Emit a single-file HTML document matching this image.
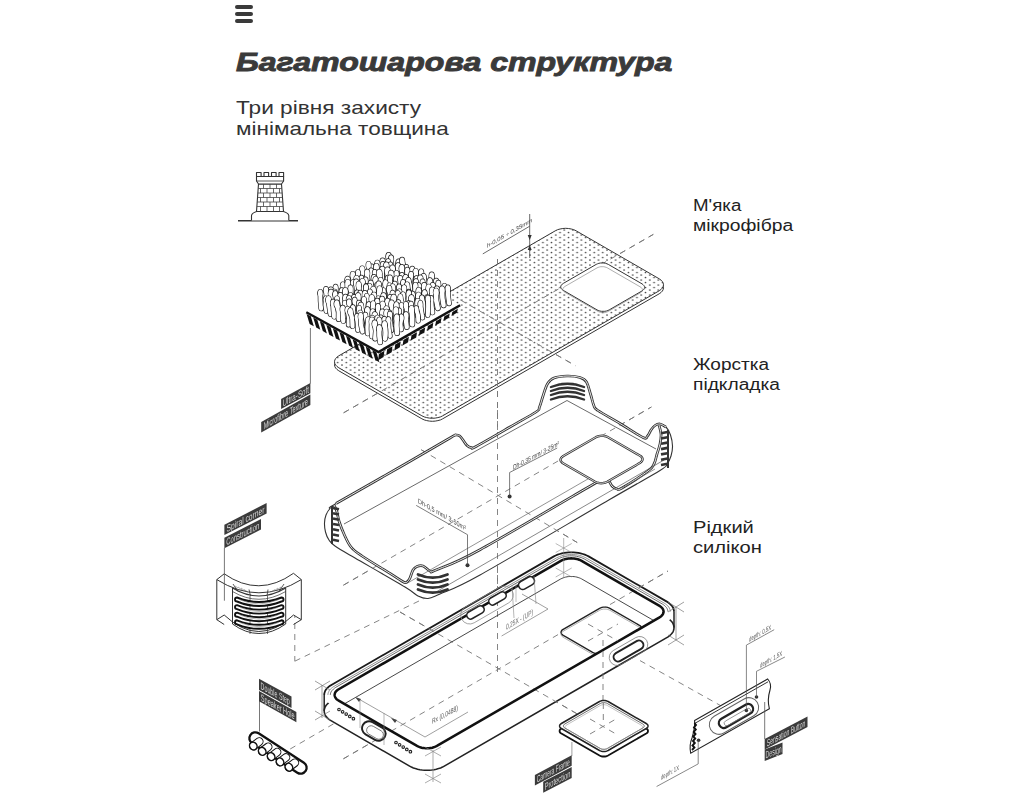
<!DOCTYPE html>
<html><head><meta charset="utf-8">
<style>
html,body{margin:0;padding:0;background:#fff;width:1024px;height:800px;overflow:hidden;}
body{position:relative;font-family:"Liberation Sans",sans-serif;color:#222;}
.t{position:absolute;white-space:nowrap;}
#ham{position:absolute;left:235px;top:4.5px;width:18px;}
#ham i{display:block;height:4px;border-radius:2px;background:#3a3a3a;margin-bottom:3px;}
#title{left:236px;top:46.5px;font-size:26.5px;line-height:30px;font-weight:bold;font-style:italic;color:#3a3a3a;transform-origin:0 0;-webkit-text-stroke:0.9px #3a3a3a;}
.sub{left:236px;font-size:19px;line-height:21px;color:#333;transform-origin:0 0;}
.lab{left:693px;font-size:15.6px;line-height:20px;color:#222;transform-origin:0 0;}
svg{position:absolute;left:0;top:0;}
</style></head>
<body>
<div id="ham"><i></i><i></i><i></i></div>
<div class="t" id="title" style="transform:scaleX(1.211)">Багатошарова структура</div>
<div class="t sub" id="s1" style="top:96.9px;transform:scaleX(1.192)">Три рівня захисту</div>
<div class="t sub" id="s2" style="top:118.3px;transform:scaleX(1.186)">мінімальна товщина</div>
<div class="t lab" id="l1" style="top:196px;transform:scaleX(1.2)">М'яка</div>
<div class="t lab" id="l2" style="top:216px;transform:scaleX(1.2375)">мікрофібра</div>
<div class="t lab" id="l3" style="top:354.7px;transform:scaleX(1.22)">Жорстка</div>
<div class="t lab" id="l4" style="top:374.6px;transform:scaleX(1.23)">підкладка</div>
<div class="t lab" id="l5" style="top:517.7px;transform:scaleX(1.289)">Рідкий</div>
<div class="t lab" id="l6" style="top:537.6px;transform:scaleX(1.292)">силікон</div>
<svg width="1024" height="800" viewBox="0 0 1024 800" style="will-change:transform">
<defs>
<pattern id="dots" patternUnits="userSpaceOnUse" width="8.55" height="5">
<circle cx="0" cy="0" r="0.85" fill="#4a4a4a"/><circle cx="8.55" cy="0" r="0.85" fill="#4a4a4a"/>
<circle cx="0" cy="5" r="0.85" fill="#4a4a4a"/><circle cx="8.55" cy="5" r="0.85" fill="#4a4a4a"/>
<circle cx="4.275" cy="2.5" r="0.85" fill="#4a4a4a"/></pattern>
</defs>
<g fill="#fff" stroke="#333" stroke-width="1.1" stroke-linejoin="round">
<line x1="238" y1="220.7" x2="298" y2="220.7" stroke-width="1.4"/>
<path d="M251.5,220.5 L251.5,215.5 Q252,213 256.5,211.5 L283.5,211.5 Q288.3,213 288.8,215.5 L288.8,220.5"/>
<path d="M258.5,184 L256.5,211.5 L283.5,211.5 L281.5,184 Z"/>
<rect x="256.5" y="172.5" width="4.6" height="4" />
<rect x="264" y="172.5" width="4.6" height="4" />
<rect x="271.5" y="172.5" width="4.6" height="4" />
<rect x="279" y="172.5" width="4.6" height="4" />
<path d="M256.5,176.5 L283.6,176.5 L283.6,181 L281.5,184 L258.5,184 L256.5,181 Z"/>
<line x1="256.8" y1="181" x2="283.3" y2="181" stroke-width="0.8"/>
</g><g stroke="#444" stroke-width="0.8">
<line x1="258.2" y1="188.5" x2="281.8" y2="188.5"/>
<line x1="257.8" y1="193" x2="282.2" y2="193"/>
<line x1="257.5" y1="197.5" x2="282.5" y2="197.5"/>
<line x1="257.2" y1="202" x2="282.8" y2="202"/>
<line x1="256.9" y1="206.5" x2="283.1" y2="206.5"/>
<line x1="263.5" y1="184" x2="263.5" y2="188.5"/>
<line x1="270" y1="184" x2="270" y2="188.5"/>
<line x1="276.5" y1="184" x2="276.5" y2="188.5"/>
<line x1="260.5" y1="188.5" x2="260.5" y2="193"/>
<line x1="267" y1="188.5" x2="267" y2="193"/>
<line x1="273.5" y1="188.5" x2="273.5" y2="193"/>
<line x1="279.5" y1="188.5" x2="279.5" y2="193"/>
<line x1="263.5" y1="193" x2="263.5" y2="197.5"/>
<line x1="270" y1="193" x2="270" y2="197.5"/>
<line x1="276.5" y1="193" x2="276.5" y2="197.5"/>
<line x1="260.5" y1="197.5" x2="260.5" y2="202"/>
<line x1="267" y1="197.5" x2="267" y2="202"/>
<line x1="273.5" y1="197.5" x2="273.5" y2="202"/>
<line x1="279.5" y1="197.5" x2="279.5" y2="202"/>
<line x1="263.5" y1="202" x2="263.5" y2="206.5"/>
<line x1="270" y1="202" x2="270" y2="206.5"/>
<line x1="276.5" y1="202" x2="276.5" y2="206.5"/>
<line x1="260.5" y1="206.5" x2="260.5" y2="211.5"/>
<line x1="267" y1="206.5" x2="267" y2="211.5"/>
<line x1="273.5" y1="206.5" x2="273.5" y2="211.5"/>
<line x1="279.5" y1="206.5" x2="279.5" y2="211.5"/>
</g>
<line x1="497.5" y1="259" x2="497.5" y2="675" stroke="#777" stroke-width="0.9" stroke-dasharray="6 5" fill="none" />
<line x1="343.6" y1="412.8" x2="653.3" y2="234.4" stroke="#777" stroke-width="0.9" stroke-dasharray="6 5" fill="none" />
<line x1="460.5" y1="300" x2="575.3" y2="365.6" stroke="#777" stroke-width="0.9" stroke-dasharray="6 5" fill="none" />
<line x1="343.4" y1="585.2" x2="651.4" y2="407" stroke="#777" stroke-width="0.9" stroke-dasharray="6 5" fill="none" />
<line x1="421.3" y1="449.8" x2="577.2" y2="542.5" stroke="#777" stroke-width="0.9" stroke-dasharray="6 5" fill="none" />
<line x1="294.8" y1="661.2" x2="519" y2="552.5" stroke="#777" stroke-width="0.9" stroke-dasharray="6 5" fill="none" />
<line x1="294.8" y1="601" x2="294.8" y2="661.2" stroke="#777" stroke-width="0.9" stroke-dasharray="6 5" fill="none" />
<line x1="290.2" y1="749" x2="334" y2="723.6" stroke="#777" stroke-width="0.9" stroke-dasharray="6 5" fill="none" />
<line x1="343.4" y1="758.8" x2="668" y2="571" stroke="#777" stroke-width="0.9" stroke-dasharray="6 5" fill="none" />
<line x1="400" y1="612" x2="600" y2="727" stroke="#777" stroke-width="0.9" stroke-dasharray="6 5" fill="none" />
<path d="M555.3,233.8 L557.5,232.7 L560.1,232 L562.8,231.5 L565.7,231.3 L568.5,231.5 L571.3,232 L573.8,232.7 L576.1,233.8 L659.2,281.8 L661,283.1 L662.4,284.6 L663.2,286.1 L663.5,287.8 L663.2,289.5 L662.4,291 L661,292.5 L659.2,293.8 L442.7,418.8 L440.5,419.9 L437.9,420.6 L435.2,421.1 L432.3,421.3 L429.5,421.1 L426.7,420.6 L424.2,419.9 L421.9,418.8 L338.8,370.8 L337,369.5 L335.6,368 L334.8,366.5 L334.5,364.8 L334.8,363.1 L335.6,361.6 L337,360.1 L338.8,358.8Z" fill="#fff" stroke="#333" stroke-width="1" />
<path d="M555.3,230.8 L557.5,229.7 L560.1,229 L562.8,228.5 L565.7,228.3 L568.5,228.5 L571.3,229 L573.8,229.7 L576.1,230.8 L659.2,278.8 L661,280.1 L662.4,281.6 L663.2,283.1 L663.5,284.8 L663.2,286.5 L662.4,288 L661,289.5 L659.2,290.8 L442.7,415.8 L440.5,416.9 L437.9,417.6 L435.2,418.1 L432.3,418.3 L429.5,418.1 L426.7,417.6 L424.2,416.9 L421.9,415.8 L338.8,367.8 L337,366.5 L335.6,365 L334.8,363.5 L334.5,361.8 L334.8,360.1 L335.6,358.6 L337,357.1 L338.8,355.8Z" fill="#fff" stroke="none" stroke-width="0" />
<path d="M555.3,230.8 L557.5,229.7 L560.1,229 L562.8,228.5 L565.7,228.3 L568.5,228.5 L571.3,229 L573.8,229.7 L576.1,230.8 L659.2,278.8 L661,280.1 L662.4,281.6 L663.2,283.1 L663.5,284.8 L663.2,286.5 L662.4,288 L661,289.5 L659.2,290.8 L442.7,415.8 L440.5,416.9 L437.9,417.6 L435.2,418.1 L432.3,418.3 L429.5,418.1 L426.7,417.6 L424.2,416.9 L421.9,415.8 L338.8,367.8 L337,366.5 L335.6,365 L334.8,363.5 L334.5,361.8 L334.8,360.1 L335.6,358.6 L337,357.1 L338.8,355.8Z" fill="url(#dots)" stroke="#333" stroke-width="1" />
<line x1="343.6" y1="412.8" x2="653.3" y2="234.4" stroke="#777" stroke-width="0.9" stroke-dasharray="6 5" fill="none" />
<line x1="460.5" y1="300" x2="575.3" y2="365.6" stroke="#777" stroke-width="0.9" stroke-dasharray="6 5" fill="none" />
<line x1="497.5" y1="259" x2="497.5" y2="420" stroke="#777" stroke-width="0.9" stroke-dasharray="6 5" fill="none" />
<path d="M596.2,264.4 L597.5,263.8 L598.9,263.3 L600.6,263 L602.2,263 L603.9,263 L605.5,263.3 L607,263.8 L608.3,264.4 L642.1,283.9 L643.1,284.7 L643.9,285.5 L644.4,286.4 L644.6,287.4 L644.4,288.4 L643.9,289.3 L643.1,290.1 L642.1,290.9 L609.2,309.9 L607.9,310.5 L606.4,311 L604.8,311.3 L603.1,311.3 L601.4,311.3 L599.8,311 L598.3,310.5 L597,309.9 L563.3,290.4 L562.2,289.6 L561.4,288.8 L560.9,287.9 L560.7,286.9 L560.9,285.9 L561.4,285 L562.2,284.2 L563.3,283.4Z" fill="#fff" stroke="#333" stroke-width="1" />
<path d="M597,267.9 L598.1,267.4 L599.4,267 L600.8,266.7 L602.2,266.7 L603.7,266.7 L605,267 L606.3,267.4 L607.4,267.9 L640.3,286.9 L641.2,287.5 L641.9,288.3 L642.3,289.1 L642.5,289.9 L642.3,290.7 L641.9,291.5 L641.2,292.3 L640.3,292.9 L608.3,311.4 L607.2,311.9 L605.9,312.3 L604.5,312.6 L603.1,312.6 L601.7,312.6 L600.3,312.3 L599,311.9 L597.9,311.4 L565,292.4 L564.1,291.8 L563.4,291 L563,290.2 L562.8,289.4 L563,288.6 L563.4,287.8 L564.1,287 L565,286.4Z" fill="none" stroke="#777" stroke-width="0.6" />
<line x1="482.8" y1="253.9" x2="529.7" y2="226.2" stroke="#444" stroke-width="0.8"/>
<line x1="529.7" y1="214" x2="529.7" y2="258" stroke="#444" stroke-width="0.8"/>
<path d="M527.7,235 L529.7,240 L531.7,235 Z M527.7,250 L529.7,245 L531.7,250Z" fill="#333"/>
<text x="0" y="0" transform="translate(487,248) skewY(-30)" font-family="Liberation Sans" font-size="6" fill="#444">h-0,05 ÷ 0,35mm</text>
<path d="M306.3,312.2 L378.5,352 L460.1,305.3 L388,265.5Z" fill="#fff" stroke="none" stroke-width="0" />
<g stroke-linecap="round" fill="none">
<path d="M389,269.7 Q389.3,263.1 388.6,256.5" stroke="#1a1a1a" stroke-width="5.8"/><ellipse cx="388.6" cy="256.5" rx="3.2" ry="4.4" fill="#1a1a1a"/>
<path d="M389,269.7 Q389.3,263.1 388.6,256.5" stroke="#fff" stroke-width="4.5"/><ellipse cx="388.6" cy="256.5" rx="2.5" ry="3.8" fill="#fff"/>
<path d="M393.4,272.2 Q390.8,265.5 391.1,258.7" stroke="#1a1a1a" stroke-width="5.4"/><ellipse cx="391.1" cy="258.7" rx="3" ry="4.2" fill="#1a1a1a"/>
<path d="M393.4,272.2 Q390.8,265.5 391.1,258.7" stroke="#fff" stroke-width="4.1"/><ellipse cx="391.1" cy="258.7" rx="2.3" ry="3.5" fill="#fff"/>
<path d="M384.4,273.9 Q382.1,267.9 382.6,262" stroke="#1a1a1a" stroke-width="5.7"/><ellipse cx="382.6" cy="262" rx="3.1" ry="4.4" fill="#1a1a1a"/>
<path d="M384.4,273.9 Q382.1,267.9 382.6,262" stroke="#fff" stroke-width="4.4"/><ellipse cx="382.6" cy="262" rx="2.5" ry="3.7" fill="#fff"/>
<path d="M398.5,274.9 Q399.2,268.9 398.6,263" stroke="#1a1a1a" stroke-width="5.8"/><ellipse cx="398.6" cy="263" rx="3.2" ry="4.5" fill="#1a1a1a"/>
<path d="M398.5,274.9 Q399.2,268.9 398.6,263" stroke="#fff" stroke-width="4.5"/><ellipse cx="398.6" cy="263" rx="2.5" ry="3.8" fill="#fff"/>
<path d="M389.7,275.3 Q388.7,268.9 388.1,262.4" stroke="#1a1a1a" stroke-width="5.3"/><ellipse cx="388.1" cy="262.4" rx="2.9" ry="4.1" fill="#1a1a1a"/>
<path d="M389.7,275.3 Q388.7,268.9 388.1,262.4" stroke="#fff" stroke-width="4"/><ellipse cx="388.1" cy="262.4" rx="2.3" ry="3.4" fill="#fff"/>
<path d="M379.1,276.2 Q380,270.1 377.3,263.9" stroke="#1a1a1a" stroke-width="5.5"/><ellipse cx="377.3" cy="263.9" rx="3" ry="4.2" fill="#1a1a1a"/>
<path d="M379.1,276.2 Q380,270.1 377.3,263.9" stroke="#fff" stroke-width="4.2"/><ellipse cx="377.3" cy="263.9" rx="2.4" ry="3.6" fill="#fff"/>
<path d="M403.9,277.4 Q404.9,269.2 402.1,261" stroke="#1a1a1a" stroke-width="5.5"/><ellipse cx="402.1" cy="261" rx="3.1" ry="4.3" fill="#1a1a1a"/>
<path d="M403.9,277.4 Q404.9,269.2 402.1,261" stroke="#fff" stroke-width="4.2"/><ellipse cx="402.1" cy="261" rx="2.4" ry="3.6" fill="#fff"/>
<path d="M392.9,278.9 Q391.2,272.4 390.4,265.8" stroke="#1a1a1a" stroke-width="5.4"/><ellipse cx="390.4" cy="265.8" rx="3" ry="4.2" fill="#1a1a1a"/>
<path d="M392.9,278.9 Q391.2,272.4 390.4,265.8" stroke="#fff" stroke-width="4.1"/><ellipse cx="390.4" cy="265.8" rx="2.3" ry="3.5" fill="#fff"/>
<path d="M384.8,279.2 Q383.8,272.3 382.9,265.4" stroke="#1a1a1a" stroke-width="5.5"/><ellipse cx="382.9" cy="265.4" rx="3.1" ry="4.3" fill="#1a1a1a"/>
<path d="M384.8,279.2 Q383.8,272.3 382.9,265.4" stroke="#fff" stroke-width="4.2"/><ellipse cx="382.9" cy="265.4" rx="2.4" ry="3.6" fill="#fff"/>
<path d="M373.9,279.3 Q372.4,273.5 371.7,267.7" stroke="#1a1a1a" stroke-width="5.3"/><ellipse cx="371.7" cy="267.7" rx="3" ry="4.1" fill="#1a1a1a"/>
<path d="M373.9,279.3 Q372.4,273.5 371.7,267.7" stroke="#fff" stroke-width="4"/><ellipse cx="371.7" cy="267.7" rx="2.3" ry="3.5" fill="#fff"/>
<path d="M407.9,279.7 Q406.1,273.8 406.3,268" stroke="#1a1a1a" stroke-width="5.1"/><ellipse cx="406.3" cy="268" rx="2.9" ry="4" fill="#1a1a1a"/>
<path d="M407.9,279.7 Q406.1,273.8 406.3,268" stroke="#fff" stroke-width="3.8"/><ellipse cx="406.3" cy="268" rx="2.2" ry="3.3" fill="#fff"/>
<path d="M398.3,281 Q398.8,273.8 398,266.6" stroke="#1a1a1a" stroke-width="5.5"/><ellipse cx="398" cy="266.6" rx="3.1" ry="4.3" fill="#1a1a1a"/>
<path d="M398.3,281 Q398.8,273.8 398,266.6" stroke="#fff" stroke-width="4.2"/><ellipse cx="398" cy="266.6" rx="2.4" ry="3.6" fill="#fff"/>
<path d="M387.7,281.1 Q386.3,273.6 386.3,266" stroke="#1a1a1a" stroke-width="5.8"/><ellipse cx="386.3" cy="266" rx="3.2" ry="4.5" fill="#1a1a1a"/>
<path d="M387.7,281.1 Q386.3,273.6 386.3,266" stroke="#fff" stroke-width="4.5"/><ellipse cx="386.3" cy="266" rx="2.6" ry="3.8" fill="#fff"/>
<path d="M368.8,281.5 Q369.2,273.2 368.5,265" stroke="#1a1a1a" stroke-width="5.2"/><ellipse cx="368.5" cy="265" rx="2.9" ry="4" fill="#1a1a1a"/>
<path d="M368.8,281.5 Q369.2,273.2 368.5,265" stroke="#fff" stroke-width="3.9"/><ellipse cx="368.5" cy="265" rx="2.3" ry="3.4" fill="#fff"/>
<path d="M412.1,281.9 Q412.7,276.1 412.3,270.2" stroke="#1a1a1a" stroke-width="5.8"/><ellipse cx="412.3" cy="270.2" rx="3.2" ry="4.5" fill="#1a1a1a"/>
<path d="M412.1,281.9 Q412.7,276.1 412.3,270.2" stroke="#fff" stroke-width="4.5"/><ellipse cx="412.3" cy="270.2" rx="2.5" ry="3.8" fill="#fff"/>
<path d="M378.5,282.4 Q377.6,274.8 376.4,267.3" stroke="#1a1a1a" stroke-width="5.7"/><ellipse cx="376.4" cy="267.3" rx="3.2" ry="4.4" fill="#1a1a1a"/>
<path d="M378.5,282.4 Q377.6,274.8 376.4,267.3" stroke="#fff" stroke-width="4.4"/><ellipse cx="376.4" cy="267.3" rx="2.5" ry="3.8" fill="#fff"/>
<path d="M401.8,282.5 Q403.1,275.5 401.8,268.5" stroke="#1a1a1a" stroke-width="5.8"/><ellipse cx="401.8" cy="268.5" rx="3.2" ry="4.5" fill="#1a1a1a"/>
<path d="M401.8,282.5 Q403.1,275.5 401.8,268.5" stroke="#fff" stroke-width="4.5"/><ellipse cx="401.8" cy="268.5" rx="2.5" ry="3.8" fill="#fff"/>
<path d="M392.9,283.5 Q393.5,276.3 392.5,269" stroke="#1a1a1a" stroke-width="5.8"/><ellipse cx="392.5" cy="269" rx="3.2" ry="4.5" fill="#1a1a1a"/>
<path d="M392.9,283.5 Q393.5,276.3 392.5,269" stroke="#fff" stroke-width="4.5"/><ellipse cx="392.5" cy="269" rx="2.6" ry="3.8" fill="#fff"/>
<path d="M373.2,284.2 Q371.6,277.9 371.1,271.6" stroke="#1a1a1a" stroke-width="5.1"/><ellipse cx="371.1" cy="271.6" rx="2.9" ry="4" fill="#1a1a1a"/>
<path d="M373.2,284.2 Q371.6,277.9 371.1,271.6" stroke="#fff" stroke-width="3.8"/><ellipse cx="371.1" cy="271.6" rx="2.2" ry="3.3" fill="#fff"/>
<path d="M416.5,284.4 Q416.6,278.4 415.7,272.4" stroke="#1a1a1a" stroke-width="5.8"/><ellipse cx="415.7" cy="272.4" rx="3.2" ry="4.5" fill="#1a1a1a"/>
<path d="M416.5,284.4 Q416.6,278.4 415.7,272.4" stroke="#fff" stroke-width="4.5"/><ellipse cx="415.7" cy="272.4" rx="2.5" ry="3.8" fill="#fff"/>
<path d="M383.5,284.8 Q381,277.5 382.4,270.2" stroke="#1a1a1a" stroke-width="5.6"/><ellipse cx="382.4" cy="270.2" rx="3.1" ry="4.4" fill="#1a1a1a"/>
<path d="M383.5,284.8 Q381,277.5 382.4,270.2" stroke="#fff" stroke-width="4.3"/><ellipse cx="382.4" cy="270.2" rx="2.5" ry="3.7" fill="#fff"/>
<path d="M363.2,285.3 Q362.8,277.6 362.2,269.8" stroke="#1a1a1a" stroke-width="5.7"/><ellipse cx="362.2" cy="269.8" rx="3.1" ry="4.4" fill="#1a1a1a"/>
<path d="M363.2,285.3 Q362.8,277.6 362.2,269.8" stroke="#fff" stroke-width="4.4"/><ellipse cx="362.2" cy="269.8" rx="2.5" ry="3.7" fill="#fff"/>
<path d="M407.6,285.6 Q406.4,278.2 407.3,270.8" stroke="#1a1a1a" stroke-width="5.2"/><ellipse cx="407.3" cy="270.8" rx="2.9" ry="4" fill="#1a1a1a"/>
<path d="M407.6,285.6 Q406.4,278.2 407.3,270.8" stroke="#fff" stroke-width="3.9"/><ellipse cx="407.3" cy="270.8" rx="2.2" ry="3.3" fill="#fff"/>
<path d="M396.8,285.9 Q395.5,280 396.5,274.1" stroke="#1a1a1a" stroke-width="5.3"/><ellipse cx="396.5" cy="274.1" rx="3" ry="4.1" fill="#1a1a1a"/>
<path d="M396.8,285.9 Q395.5,280 396.5,274.1" stroke="#fff" stroke-width="4"/><ellipse cx="396.5" cy="274.1" rx="2.3" ry="3.5" fill="#fff"/>
<path d="M388.5,286.3 Q387.5,278.7 387.5,271.1" stroke="#1a1a1a" stroke-width="5.9"/><ellipse cx="387.5" cy="271.1" rx="3.2" ry="4.5" fill="#1a1a1a"/>
<path d="M388.5,286.3 Q387.5,278.7 387.5,271.1" stroke="#fff" stroke-width="4.6"/><ellipse cx="387.5" cy="271.1" rx="2.6" ry="3.9" fill="#fff"/>
<path d="M367.3,286.9 Q367.7,280 367.1,273.1" stroke="#1a1a1a" stroke-width="5.6"/><ellipse cx="367.1" cy="273.1" rx="3.1" ry="4.4" fill="#1a1a1a"/>
<path d="M367.3,286.9 Q367.7,280 367.1,273.1" stroke="#fff" stroke-width="4.3"/><ellipse cx="367.1" cy="273.1" rx="2.5" ry="3.7" fill="#fff"/>
<path d="M376.8,287.7 Q374.8,280.3 374.8,273" stroke="#1a1a1a" stroke-width="5.2"/><ellipse cx="374.8" cy="273" rx="2.9" ry="4" fill="#1a1a1a"/>
<path d="M376.8,287.7 Q374.8,280.3 374.8,273" stroke="#fff" stroke-width="3.9"/><ellipse cx="374.8" cy="273" rx="2.2" ry="3.3" fill="#fff"/>
<path d="M422,287.8 Q419.6,280.2 421.2,272.6" stroke="#1a1a1a" stroke-width="5.3"/><ellipse cx="421.2" cy="272.6" rx="3" ry="4.1" fill="#1a1a1a"/>
<path d="M422,287.8 Q419.6,280.2 421.2,272.6" stroke="#fff" stroke-width="4"/><ellipse cx="421.2" cy="272.6" rx="2.3" ry="3.5" fill="#fff"/>
<path d="M402.4,288 Q402.9,282.1 401.9,276.2" stroke="#1a1a1a" stroke-width="5.3"/><ellipse cx="401.9" cy="276.2" rx="3" ry="4.1" fill="#1a1a1a"/>
<path d="M402.4,288 Q402.9,282.1 401.9,276.2" stroke="#fff" stroke-width="4"/><ellipse cx="401.9" cy="276.2" rx="2.3" ry="3.5" fill="#fff"/>
<path d="M358.9,288.2 Q358.3,280.8 358,273.3" stroke="#1a1a1a" stroke-width="5.3"/><ellipse cx="358" cy="273.3" rx="3" ry="4.1" fill="#1a1a1a"/>
<path d="M358.9,288.2 Q358.3,280.8 358,273.3" stroke="#fff" stroke-width="4"/><ellipse cx="358" cy="273.3" rx="2.3" ry="3.5" fill="#fff"/>
<path d="M410.9,288.9 Q409.8,282 411.1,275.1" stroke="#1a1a1a" stroke-width="5.2"/><ellipse cx="411.1" cy="275.1" rx="2.9" ry="4" fill="#1a1a1a"/>
<path d="M410.9,288.9 Q409.8,282 411.1,275.1" stroke="#fff" stroke-width="3.9"/><ellipse cx="411.1" cy="275.1" rx="2.2" ry="3.4" fill="#fff"/>
<path d="M381.7,289.7 Q380.3,281.5 379.3,273.3" stroke="#1a1a1a" stroke-width="5.8"/><ellipse cx="379.3" cy="273.3" rx="3.2" ry="4.5" fill="#1a1a1a"/>
<path d="M381.7,289.7 Q380.3,281.5 379.3,273.3" stroke="#fff" stroke-width="4.5"/><ellipse cx="379.3" cy="273.3" rx="2.6" ry="3.9" fill="#fff"/>
<path d="M392.3,289.9 Q390.8,282.1 391.1,274.3" stroke="#1a1a1a" stroke-width="5.9"/><ellipse cx="391.1" cy="274.3" rx="3.2" ry="4.5" fill="#1a1a1a"/>
<path d="M392.3,289.9 Q390.8,282.1 391.1,274.3" stroke="#fff" stroke-width="4.6"/><ellipse cx="391.1" cy="274.3" rx="2.6" ry="3.9" fill="#fff"/>
<path d="M425.4,290.2 Q424.8,283.9 423.6,277.6" stroke="#1a1a1a" stroke-width="5.9"/><ellipse cx="423.6" cy="277.6" rx="3.2" ry="4.5" fill="#1a1a1a"/>
<path d="M425.4,290.2 Q424.8,283.9 423.6,277.6" stroke="#fff" stroke-width="4.6"/><ellipse cx="423.6" cy="277.6" rx="2.6" ry="3.9" fill="#fff"/>
<path d="M373.5,290.5 Q372.2,284.4 373.9,278.3" stroke="#1a1a1a" stroke-width="5.5"/><ellipse cx="373.9" cy="278.3" rx="3.1" ry="4.3" fill="#1a1a1a"/>
<path d="M373.5,290.5 Q372.2,284.4 373.9,278.3" stroke="#fff" stroke-width="4.2"/><ellipse cx="373.9" cy="278.3" rx="2.4" ry="3.6" fill="#fff"/>
<path d="M352.7,290.8 Q353.6,283 352.8,275.2" stroke="#1a1a1a" stroke-width="5.5"/><ellipse cx="352.8" cy="275.2" rx="3.1" ry="4.3" fill="#1a1a1a"/>
<path d="M352.7,290.8 Q353.6,283 352.8,275.2" stroke="#fff" stroke-width="4.2"/><ellipse cx="352.8" cy="275.2" rx="2.4" ry="3.6" fill="#fff"/>
<path d="M406.6,291.1 Q404.2,284.8 405.6,278.5" stroke="#1a1a1a" stroke-width="5.8"/><ellipse cx="405.6" cy="278.5" rx="3.2" ry="4.5" fill="#1a1a1a"/>
<path d="M406.6,291.1 Q404.2,284.8 405.6,278.5" stroke="#fff" stroke-width="4.5"/><ellipse cx="405.6" cy="278.5" rx="2.6" ry="3.8" fill="#fff"/>
<path d="M397.4,291.1 Q396,285.4 396.2,279.6" stroke="#1a1a1a" stroke-width="5.5"/><ellipse cx="396.2" cy="279.6" rx="3" ry="4.2" fill="#1a1a1a"/>
<path d="M397.4,291.1 Q396,285.4 396.2,279.6" stroke="#fff" stroke-width="4.2"/><ellipse cx="396.2" cy="279.6" rx="2.4" ry="3.6" fill="#fff"/>
<path d="M363.1,291.2 Q363.7,285.1 361.5,279" stroke="#1a1a1a" stroke-width="5.4"/><ellipse cx="361.5" cy="279" rx="3" ry="4.2" fill="#1a1a1a"/>
<path d="M363.1,291.2 Q363.7,285.1 361.5,279" stroke="#fff" stroke-width="4.1"/><ellipse cx="361.5" cy="279" rx="2.3" ry="3.5" fill="#fff"/>
<path d="M416.5,291.2 Q415,285.5 416.6,279.7" stroke="#1a1a1a" stroke-width="5.7"/><ellipse cx="416.6" cy="279.7" rx="3.2" ry="4.4" fill="#1a1a1a"/>
<path d="M416.5,291.2 Q415,285.5 416.6,279.7" stroke="#fff" stroke-width="4.4"/><ellipse cx="416.6" cy="279.7" rx="2.5" ry="3.8" fill="#fff"/>
<path d="M431.5,292.1 Q430.7,284 431.7,276" stroke="#1a1a1a" stroke-width="5.7"/><ellipse cx="431.7" cy="276" rx="3.1" ry="4.4" fill="#1a1a1a"/>
<path d="M431.5,292.1 Q430.7,284 431.7,276" stroke="#fff" stroke-width="4.4"/><ellipse cx="431.7" cy="276" rx="2.5" ry="3.7" fill="#fff"/>
<path d="M387.4,292.3 Q388,285.6 387.9,279" stroke="#1a1a1a" stroke-width="5.4"/><ellipse cx="387.9" cy="279" rx="3" ry="4.2" fill="#1a1a1a"/>
<path d="M387.4,292.3 Q388,285.6 387.9,279" stroke="#fff" stroke-width="4.1"/><ellipse cx="387.9" cy="279" rx="2.4" ry="3.5" fill="#fff"/>
<path d="M377.2,293.4 Q374.5,286.8 375.5,280.1" stroke="#1a1a1a" stroke-width="5.4"/><ellipse cx="375.5" cy="280.1" rx="3" ry="4.2" fill="#1a1a1a"/>
<path d="M377.2,293.4 Q374.5,286.8 375.5,280.1" stroke="#fff" stroke-width="4.1"/><ellipse cx="375.5" cy="280.1" rx="2.4" ry="3.6" fill="#fff"/>
<path d="M410.1,293.5 Q411,287.5 408.4,281.5" stroke="#1a1a1a" stroke-width="5.8"/><ellipse cx="408.4" cy="281.5" rx="3.2" ry="4.5" fill="#1a1a1a"/>
<path d="M410.1,293.5 Q411,287.5 408.4,281.5" stroke="#fff" stroke-width="4.5"/><ellipse cx="408.4" cy="281.5" rx="2.5" ry="3.8" fill="#fff"/>
<path d="M366.5,293.5 Q364.8,287.1 365.5,280.7" stroke="#1a1a1a" stroke-width="5.3"/><ellipse cx="365.5" cy="280.7" rx="3" ry="4.1" fill="#1a1a1a"/>
<path d="M366.5,293.5 Q364.8,287.1 365.5,280.7" stroke="#fff" stroke-width="4"/><ellipse cx="365.5" cy="280.7" rx="2.3" ry="3.5" fill="#fff"/>
<path d="M347.5,293.6 Q348.8,286.9 347.6,280.3" stroke="#1a1a1a" stroke-width="5.9"/><ellipse cx="347.6" cy="280.3" rx="3.2" ry="4.5" fill="#1a1a1a"/>
<path d="M347.5,293.6 Q348.8,286.9 347.6,280.3" stroke="#fff" stroke-width="4.6"/><ellipse cx="347.6" cy="280.3" rx="2.6" ry="3.9" fill="#fff"/>
<path d="M420,293.8 Q420.3,286.5 420.3,279.1" stroke="#1a1a1a" stroke-width="5.8"/><ellipse cx="420.3" cy="279.1" rx="3.2" ry="4.5" fill="#1a1a1a"/>
<path d="M420,293.8 Q420.3,286.5 420.3,279.1" stroke="#fff" stroke-width="4.5"/><ellipse cx="420.3" cy="279.1" rx="2.6" ry="3.8" fill="#fff"/>
<path d="M400.5,294.1 Q400.1,286.6 400.2,279" stroke="#1a1a1a" stroke-width="5.1"/><ellipse cx="400.2" cy="279" rx="2.9" ry="4" fill="#1a1a1a"/>
<path d="M400.5,294.1 Q400.1,286.6 400.2,279" stroke="#fff" stroke-width="3.8"/><ellipse cx="400.2" cy="279" rx="2.2" ry="3.3" fill="#fff"/>
<path d="M358.2,294.5 Q355.5,286.9 356.5,279.2" stroke="#1a1a1a" stroke-width="5.6"/><ellipse cx="356.5" cy="279.2" rx="3.1" ry="4.3" fill="#1a1a1a"/>
<path d="M358.2,294.5 Q355.5,286.9 356.5,279.2" stroke="#fff" stroke-width="4.3"/><ellipse cx="356.5" cy="279.2" rx="2.5" ry="3.7" fill="#fff"/>
<path d="M391.1,294.8 Q389.9,286.7 390,278.6" stroke="#1a1a1a" stroke-width="5.2"/><ellipse cx="390" cy="278.6" rx="2.9" ry="4" fill="#1a1a1a"/>
<path d="M391.1,294.8 Q389.9,286.7 390,278.6" stroke="#fff" stroke-width="3.9"/><ellipse cx="390" cy="278.6" rx="2.3" ry="3.4" fill="#fff"/>
<path d="M435.8,295.1 Q435,288.6 436.2,282.1" stroke="#1a1a1a" stroke-width="5.7"/><ellipse cx="436.2" cy="282.1" rx="3.1" ry="4.4" fill="#1a1a1a"/>
<path d="M435.8,295.1 Q435,288.6 436.2,282.1" stroke="#fff" stroke-width="4.4"/><ellipse cx="436.2" cy="282.1" rx="2.5" ry="3.7" fill="#fff"/>
<path d="M381.5,295.8 Q380.7,288.4 380.7,281" stroke="#1a1a1a" stroke-width="5.3"/><ellipse cx="380.7" cy="281" rx="3" ry="4.1" fill="#1a1a1a"/>
<path d="M381.5,295.8 Q380.7,288.4 380.7,281" stroke="#fff" stroke-width="4"/><ellipse cx="380.7" cy="281" rx="2.3" ry="3.5" fill="#fff"/>
<path d="M372.7,296.2 Q373.4,290 370.8,283.8" stroke="#1a1a1a" stroke-width="5.2"/><ellipse cx="370.8" cy="283.8" rx="2.9" ry="4" fill="#1a1a1a"/>
<path d="M372.7,296.2 Q373.4,290 370.8,283.8" stroke="#fff" stroke-width="3.9"/><ellipse cx="370.8" cy="283.8" rx="2.3" ry="3.4" fill="#fff"/>
<path d="M415.8,296.2 Q417.9,289.3 416,282.3" stroke="#1a1a1a" stroke-width="5.3"/><ellipse cx="416" cy="282.3" rx="2.9" ry="4.1" fill="#1a1a1a"/>
<path d="M415.8,296.2 Q417.9,289.3 416,282.3" stroke="#fff" stroke-width="4"/><ellipse cx="416" cy="282.3" rx="2.3" ry="3.4" fill="#fff"/>
<path d="M424.5,296.3 Q421.9,289.4 422.6,282.6" stroke="#1a1a1a" stroke-width="5.2"/><ellipse cx="422.6" cy="282.6" rx="2.9" ry="4" fill="#1a1a1a"/>
<path d="M424.5,296.3 Q421.9,289.4 422.6,282.6" stroke="#fff" stroke-width="3.9"/><ellipse cx="422.6" cy="282.6" rx="2.3" ry="3.4" fill="#fff"/>
<path d="M404.9,296.3 Q403.1,289.7 403.1,283.1" stroke="#1a1a1a" stroke-width="5.2"/><ellipse cx="403.1" cy="283.1" rx="2.9" ry="4" fill="#1a1a1a"/>
<path d="M404.9,296.3 Q403.1,289.7 403.1,283.1" stroke="#fff" stroke-width="3.9"/><ellipse cx="403.1" cy="283.1" rx="2.2" ry="3.4" fill="#fff"/>
<path d="M362.8,296.7 Q362.3,289.5 362.5,282.4" stroke="#1a1a1a" stroke-width="5.8"/><ellipse cx="362.5" cy="282.4" rx="3.2" ry="4.5" fill="#1a1a1a"/>
<path d="M362.8,296.7 Q362.3,289.5 362.5,282.4" stroke="#fff" stroke-width="4.5"/><ellipse cx="362.5" cy="282.4" rx="2.6" ry="3.8" fill="#fff"/>
<path d="M386.8,297.3 Q385.5,290.5 385.5,283.7" stroke="#1a1a1a" stroke-width="5.5"/><ellipse cx="385.5" cy="283.7" rx="3.1" ry="4.3" fill="#1a1a1a"/>
<path d="M386.8,297.3 Q385.5,290.5 385.5,283.7" stroke="#fff" stroke-width="4.2"/><ellipse cx="385.5" cy="283.7" rx="2.4" ry="3.6" fill="#fff"/>
<path d="M342.5,297.4 Q341.2,291.5 342.9,285.6" stroke="#1a1a1a" stroke-width="5.3"/><ellipse cx="342.9" cy="285.6" rx="3" ry="4.1" fill="#1a1a1a"/>
<path d="M342.5,297.4 Q341.2,291.5 342.9,285.6" stroke="#fff" stroke-width="4"/><ellipse cx="342.9" cy="285.6" rx="2.3" ry="3.5" fill="#fff"/>
<path d="M353,297.5 Q351.9,290.5 353.1,283.5" stroke="#1a1a1a" stroke-width="5.6"/><ellipse cx="353.1" cy="283.5" rx="3.1" ry="4.3" fill="#1a1a1a"/>
<path d="M353,297.5 Q351.9,290.5 353.1,283.5" stroke="#fff" stroke-width="4.3"/><ellipse cx="353.1" cy="283.5" rx="2.5" ry="3.7" fill="#fff"/>
<path d="M396.1,297.7 Q395.2,291.3 394.8,284.8" stroke="#1a1a1a" stroke-width="5.3"/><ellipse cx="394.8" cy="284.8" rx="2.9" ry="4.1" fill="#1a1a1a"/>
<path d="M396.1,297.7 Q395.2,291.3 394.8,284.8" stroke="#fff" stroke-width="4"/><ellipse cx="394.8" cy="284.8" rx="2.3" ry="3.4" fill="#fff"/>
<path d="M429.8,298 Q427.9,289.8 429.9,281.7" stroke="#1a1a1a" stroke-width="5.8"/><ellipse cx="429.9" cy="281.7" rx="3.2" ry="4.5" fill="#1a1a1a"/>
<path d="M429.8,298 Q427.9,289.8 429.9,281.7" stroke="#fff" stroke-width="4.5"/><ellipse cx="429.9" cy="281.7" rx="2.5" ry="3.8" fill="#fff"/>
<path d="M376.9,298.2 Q376.9,292.4 377.1,286.5" stroke="#1a1a1a" stroke-width="5.7"/><ellipse cx="377.1" cy="286.5" rx="3.1" ry="4.4" fill="#1a1a1a"/>
<path d="M376.9,298.2 Q376.9,292.4 377.1,286.5" stroke="#fff" stroke-width="4.4"/><ellipse cx="377.1" cy="286.5" rx="2.5" ry="3.7" fill="#fff"/>
<path d="M439.7,298.3 Q440.7,291 438.3,283.8" stroke="#1a1a1a" stroke-width="5.1"/><ellipse cx="438.3" cy="283.8" rx="2.9" ry="4" fill="#1a1a1a"/>
<path d="M439.7,298.3 Q440.7,291 438.3,283.8" stroke="#fff" stroke-width="3.8"/><ellipse cx="438.3" cy="283.8" rx="2.2" ry="3.3" fill="#fff"/>
<path d="M347.4,299 Q346.6,291.2 347.8,283.4" stroke="#1a1a1a" stroke-width="5.8"/><ellipse cx="347.8" cy="283.4" rx="3.2" ry="4.5" fill="#1a1a1a"/>
<path d="M347.4,299 Q346.6,291.2 347.8,283.4" stroke="#fff" stroke-width="4.5"/><ellipse cx="347.8" cy="283.4" rx="2.5" ry="3.8" fill="#fff"/>
<path d="M367.2,299.1 Q367.5,293.1 366.3,287.1" stroke="#1a1a1a" stroke-width="5.2"/><ellipse cx="366.3" cy="287.1" rx="2.9" ry="4" fill="#1a1a1a"/>
<path d="M367.2,299.1 Q367.5,293.1 366.3,287.1" stroke="#fff" stroke-width="3.9"/><ellipse cx="366.3" cy="287.1" rx="2.3" ry="3.4" fill="#fff"/>
<path d="M356.8,299.2 Q357.5,291.1 356.2,283" stroke="#1a1a1a" stroke-width="5.7"/><ellipse cx="356.2" cy="283" rx="3.1" ry="4.4" fill="#1a1a1a"/>
<path d="M356.8,299.2 Q357.5,291.1 356.2,283" stroke="#fff" stroke-width="4.4"/><ellipse cx="356.2" cy="283" rx="2.5" ry="3.7" fill="#fff"/>
<path d="M409.5,299.5 Q409.4,292.6 407.1,285.7" stroke="#1a1a1a" stroke-width="5.5"/><ellipse cx="407.1" cy="285.7" rx="3.1" ry="4.3" fill="#1a1a1a"/>
<path d="M409.5,299.5 Q409.4,292.6 407.1,285.7" stroke="#fff" stroke-width="4.2"/><ellipse cx="407.1" cy="285.7" rx="2.4" ry="3.6" fill="#fff"/>
<path d="M419.2,299.5 Q418.2,293.2 418.7,286.8" stroke="#1a1a1a" stroke-width="5.8"/><ellipse cx="418.7" cy="286.8" rx="3.2" ry="4.5" fill="#1a1a1a"/>
<path d="M419.2,299.5 Q418.2,293.2 418.7,286.8" stroke="#fff" stroke-width="4.5"/><ellipse cx="418.7" cy="286.8" rx="2.6" ry="3.9" fill="#fff"/>
<path d="M399.7,299.8 Q400.2,293.8 399.1,287.7" stroke="#1a1a1a" stroke-width="5.3"/><ellipse cx="399.1" cy="287.7" rx="3" ry="4.1" fill="#1a1a1a"/>
<path d="M399.7,299.8 Q400.2,293.8 399.1,287.7" stroke="#fff" stroke-width="4"/><ellipse cx="399.1" cy="287.7" rx="2.3" ry="3.5" fill="#fff"/>
<path d="M336.5,299.8 Q336.4,293.8 335.6,287.8" stroke="#1a1a1a" stroke-width="5.2"/><ellipse cx="335.6" cy="287.8" rx="2.9" ry="4" fill="#1a1a1a"/>
<path d="M336.5,299.8 Q336.4,293.8 335.6,287.8" stroke="#fff" stroke-width="3.9"/><ellipse cx="335.6" cy="287.8" rx="2.2" ry="3.3" fill="#fff"/>
<path d="M390.2,299.9 Q387.9,293.2 389.5,286.5" stroke="#1a1a1a" stroke-width="5.3"/><ellipse cx="389.5" cy="286.5" rx="2.9" ry="4.1" fill="#1a1a1a"/>
<path d="M390.2,299.9 Q387.9,293.2 389.5,286.5" stroke="#fff" stroke-width="4"/><ellipse cx="389.5" cy="286.5" rx="2.3" ry="3.4" fill="#fff"/>
<path d="M444,300.2 Q444.8,293.7 444.4,287.2" stroke="#1a1a1a" stroke-width="5.5"/><ellipse cx="444.4" cy="287.2" rx="3" ry="4.2" fill="#1a1a1a"/>
<path d="M444,300.2 Q444.8,293.7 444.4,287.2" stroke="#fff" stroke-width="4.2"/><ellipse cx="444.4" cy="287.2" rx="2.4" ry="3.6" fill="#fff"/>
<path d="M360.5,301.1 Q358.6,293.1 358.7,285.2" stroke="#1a1a1a" stroke-width="5.5"/><ellipse cx="358.7" cy="285.2" rx="3" ry="4.2" fill="#1a1a1a"/>
<path d="M360.5,301.1 Q358.6,293.1 358.7,285.2" stroke="#fff" stroke-width="4.2"/><ellipse cx="358.7" cy="285.2" rx="2.4" ry="3.6" fill="#fff"/>
<path d="M380.3,301.2 Q377.6,293 378.7,284.9" stroke="#1a1a1a" stroke-width="5.7"/><ellipse cx="378.7" cy="284.9" rx="3.1" ry="4.4" fill="#1a1a1a"/>
<path d="M380.3,301.2 Q377.6,293 378.7,284.9" stroke="#fff" stroke-width="4.4"/><ellipse cx="378.7" cy="284.9" rx="2.5" ry="3.7" fill="#fff"/>
<path d="M370.6,301.3 Q369,294.3 369.4,287.3" stroke="#1a1a1a" stroke-width="5.6"/><ellipse cx="369.4" cy="287.3" rx="3.1" ry="4.4" fill="#1a1a1a"/>
<path d="M370.6,301.3 Q369,294.3 369.4,287.3" stroke="#fff" stroke-width="4.3"/><ellipse cx="369.4" cy="287.3" rx="2.5" ry="3.7" fill="#fff"/>
<path d="M434.5,301.4 Q431.8,294 432.7,286.6" stroke="#1a1a1a" stroke-width="5.8"/><ellipse cx="432.7" cy="286.6" rx="3.2" ry="4.5" fill="#1a1a1a"/>
<path d="M434.5,301.4 Q431.8,294 432.7,286.6" stroke="#fff" stroke-width="4.5"/><ellipse cx="432.7" cy="286.6" rx="2.6" ry="3.9" fill="#fff"/>
<path d="M404.6,301.9 Q403.1,295.3 404.1,288.7" stroke="#1a1a1a" stroke-width="5.4"/><ellipse cx="404.1" cy="288.7" rx="3" ry="4.2" fill="#1a1a1a"/>
<path d="M404.6,301.9 Q403.1,295.3 404.1,288.7" stroke="#fff" stroke-width="4.1"/><ellipse cx="404.1" cy="288.7" rx="2.4" ry="3.6" fill="#fff"/>
<path d="M425.2,302 Q423.5,294.2 424.2,286.5" stroke="#1a1a1a" stroke-width="5.7"/><ellipse cx="424.2" cy="286.5" rx="3.1" ry="4.4" fill="#1a1a1a"/>
<path d="M425.2,302 Q423.5,294.2 424.2,286.5" stroke="#fff" stroke-width="4.4"/><ellipse cx="424.2" cy="286.5" rx="2.5" ry="3.7" fill="#fff"/>
<path d="M415.4,302.4 Q414.3,294.2 415.4,286" stroke="#1a1a1a" stroke-width="5.3"/><ellipse cx="415.4" cy="286" rx="3" ry="4.1" fill="#1a1a1a"/>
<path d="M415.4,302.4 Q414.3,294.2 415.4,286" stroke="#fff" stroke-width="4"/><ellipse cx="415.4" cy="286" rx="2.3" ry="3.5" fill="#fff"/>
<path d="M438.5,302.6 Q439.5,296.3 436.9,290" stroke="#1a1a1a" stroke-width="5.7"/><ellipse cx="436.9" cy="290" rx="3.2" ry="4.4" fill="#1a1a1a"/>
<path d="M438.5,302.6 Q439.5,296.3 436.9,290" stroke="#fff" stroke-width="4.4"/><ellipse cx="436.9" cy="290" rx="2.5" ry="3.8" fill="#fff"/>
<path d="M352.4,302.7 Q351.1,295.7 350.5,288.7" stroke="#1a1a1a" stroke-width="5.2"/><ellipse cx="350.5" cy="288.7" rx="2.9" ry="4.1" fill="#1a1a1a"/>
<path d="M352.4,302.7 Q351.1,295.7 350.5,288.7" stroke="#fff" stroke-width="3.9"/><ellipse cx="350.5" cy="288.7" rx="2.3" ry="3.4" fill="#fff"/>
<path d="M394.8,302.9 Q393.3,295.5 392.7,288" stroke="#1a1a1a" stroke-width="5.9"/><ellipse cx="392.7" cy="288" rx="3.2" ry="4.5" fill="#1a1a1a"/>
<path d="M394.8,302.9 Q393.3,295.5 392.7,288" stroke="#fff" stroke-width="4.6"/><ellipse cx="392.7" cy="288" rx="2.6" ry="3.9" fill="#fff"/>
<path d="M375.4,303 Q372.6,296.7 373.3,290.4" stroke="#1a1a1a" stroke-width="5.9"/><ellipse cx="373.3" cy="290.4" rx="3.2" ry="4.5" fill="#1a1a1a"/>
<path d="M375.4,303 Q372.6,296.7 373.3,290.4" stroke="#fff" stroke-width="4.6"/><ellipse cx="373.3" cy="290.4" rx="2.6" ry="3.9" fill="#fff"/>
<path d="M341.6,303.3 Q343.2,297.4 341.8,291.5" stroke="#1a1a1a" stroke-width="5.4"/><ellipse cx="341.8" cy="291.5" rx="3" ry="4.2" fill="#1a1a1a"/>
<path d="M341.6,303.3 Q343.2,297.4 341.8,291.5" stroke="#fff" stroke-width="4.1"/><ellipse cx="341.8" cy="291.5" rx="2.4" ry="3.5" fill="#fff"/>
<path d="M428.4,303.4 Q427.9,295.8 428.7,288.2" stroke="#1a1a1a" stroke-width="5.9"/><ellipse cx="428.7" cy="288.2" rx="3.2" ry="4.5" fill="#1a1a1a"/>
<path d="M428.4,303.4 Q427.9,295.8 428.7,288.2" stroke="#fff" stroke-width="4.6"/><ellipse cx="428.7" cy="288.2" rx="2.6" ry="3.9" fill="#fff"/>
<path d="M331.1,303.5 Q329.1,297.3 330.8,291.1" stroke="#1a1a1a" stroke-width="5.8"/><ellipse cx="330.8" cy="291.1" rx="3.2" ry="4.5" fill="#1a1a1a"/>
<path d="M331.1,303.5 Q329.1,297.3 330.8,291.1" stroke="#fff" stroke-width="4.5"/><ellipse cx="330.8" cy="291.1" rx="2.6" ry="3.9" fill="#fff"/>
<path d="M449.1,303.5 Q447.8,296.1 447.8,288.7" stroke="#1a1a1a" stroke-width="5.4"/><ellipse cx="447.8" cy="288.7" rx="3" ry="4.2" fill="#1a1a1a"/>
<path d="M449.1,303.5 Q447.8,296.1 447.8,288.7" stroke="#fff" stroke-width="4.1"/><ellipse cx="447.8" cy="288.7" rx="2.4" ry="3.5" fill="#fff"/>
<path d="M385.1,303.7 Q383.7,297.5 383.5,291.4" stroke="#1a1a1a" stroke-width="5.1"/><ellipse cx="383.5" cy="291.4" rx="2.9" ry="4" fill="#1a1a1a"/>
<path d="M385.1,303.7 Q383.7,297.5 383.5,291.4" stroke="#fff" stroke-width="3.8"/><ellipse cx="383.5" cy="291.4" rx="2.2" ry="3.3" fill="#fff"/>
<path d="M365.6,303.9 Q364.6,295.7 366,287.6" stroke="#1a1a1a" stroke-width="5.2"/><ellipse cx="366" cy="287.6" rx="2.9" ry="4" fill="#1a1a1a"/>
<path d="M365.6,303.9 Q364.6,295.7 366,287.6" stroke="#fff" stroke-width="3.9"/><ellipse cx="366" cy="287.6" rx="2.2" ry="3.4" fill="#fff"/>
<path d="M418.7,304.6 Q418.4,297.9 418.7,291.3" stroke="#1a1a1a" stroke-width="5.8"/><ellipse cx="418.7" cy="291.3" rx="3.2" ry="4.4" fill="#1a1a1a"/>
<path d="M418.7,304.6 Q418.4,297.9 418.7,291.3" stroke="#fff" stroke-width="4.5"/><ellipse cx="418.7" cy="291.3" rx="2.5" ry="3.8" fill="#fff"/>
<path d="M410.1,304.7 Q411.1,298.9 408.8,293" stroke="#1a1a1a" stroke-width="5.5"/><ellipse cx="408.8" cy="293" rx="3" ry="4.2" fill="#1a1a1a"/>
<path d="M410.1,304.7 Q411.1,298.9 408.8,293" stroke="#fff" stroke-width="4.2"/><ellipse cx="408.8" cy="293" rx="2.4" ry="3.6" fill="#fff"/>
<path d="M399.3,305.1 Q397.5,298.9 399.5,292.6" stroke="#1a1a1a" stroke-width="5.4"/><ellipse cx="399.5" cy="292.6" rx="3" ry="4.2" fill="#1a1a1a"/>
<path d="M399.3,305.1 Q397.5,298.9 399.5,292.6" stroke="#fff" stroke-width="4.1"/><ellipse cx="399.5" cy="292.6" rx="2.3" ry="3.5" fill="#fff"/>
<path d="M345.5,305.2 Q343.5,298.4 345.3,291.6" stroke="#1a1a1a" stroke-width="5.7"/><ellipse cx="345.3" cy="291.6" rx="3.2" ry="4.4" fill="#1a1a1a"/>
<path d="M345.5,305.2 Q343.5,298.4 345.3,291.6" stroke="#fff" stroke-width="4.4"/><ellipse cx="345.3" cy="291.6" rx="2.5" ry="3.8" fill="#fff"/>
<path d="M356.9,305.2 Q356,299.4 357.1,293.5" stroke="#1a1a1a" stroke-width="5.2"/><ellipse cx="357.1" cy="293.5" rx="2.9" ry="4" fill="#1a1a1a"/>
<path d="M356.9,305.2 Q356,299.4 357.1,293.5" stroke="#fff" stroke-width="3.9"/><ellipse cx="357.1" cy="293.5" rx="2.2" ry="3.3" fill="#fff"/>
<path d="M443.6,305.3 Q441.9,297.7 442.1,290.1" stroke="#1a1a1a" stroke-width="5.8"/><ellipse cx="442.1" cy="290.1" rx="3.2" ry="4.5" fill="#1a1a1a"/>
<path d="M443.6,305.3 Q441.9,297.7 442.1,290.1" stroke="#fff" stroke-width="4.5"/><ellipse cx="442.1" cy="290.1" rx="2.6" ry="3.8" fill="#fff"/>
<path d="M391,305.6 Q391,297.4 389.2,289.3" stroke="#1a1a1a" stroke-width="5.6"/><ellipse cx="389.2" cy="289.3" rx="3.1" ry="4.3" fill="#1a1a1a"/>
<path d="M391,305.6 Q391,297.4 389.2,289.3" stroke="#fff" stroke-width="4.3"/><ellipse cx="389.2" cy="289.3" rx="2.4" ry="3.7" fill="#fff"/>
<path d="M337.1,305.9 Q336.8,299.3 334.6,292.8" stroke="#1a1a1a" stroke-width="5.3"/><ellipse cx="334.6" cy="292.8" rx="3" ry="4.1" fill="#1a1a1a"/>
<path d="M337.1,305.9 Q336.8,299.3 334.6,292.8" stroke="#fff" stroke-width="4"/><ellipse cx="334.6" cy="292.8" rx="2.3" ry="3.5" fill="#fff"/>
<path d="M379.3,305.9 Q377.5,297.8 379.6,289.8" stroke="#1a1a1a" stroke-width="5.6"/><ellipse cx="379.6" cy="289.8" rx="3.1" ry="4.3" fill="#1a1a1a"/>
<path d="M379.3,305.9 Q377.5,297.8 379.6,289.8" stroke="#fff" stroke-width="4.3"/><ellipse cx="379.6" cy="289.8" rx="2.5" ry="3.7" fill="#fff"/>
<path d="M424.2,306.2 Q426.2,299.8 424.6,293.5" stroke="#1a1a1a" stroke-width="5.5"/><ellipse cx="424.6" cy="293.5" rx="3" ry="4.2" fill="#1a1a1a"/>
<path d="M424.2,306.2 Q426.2,299.8 424.6,293.5" stroke="#fff" stroke-width="4.2"/><ellipse cx="424.6" cy="293.5" rx="2.4" ry="3.6" fill="#fff"/>
<path d="M371.1,306.2 Q370.5,299.5 369.9,292.8" stroke="#1a1a1a" stroke-width="5.3"/><ellipse cx="369.9" cy="292.8" rx="3" ry="4.1" fill="#1a1a1a"/>
<path d="M371.1,306.2 Q370.5,299.5 369.9,292.8" stroke="#fff" stroke-width="4"/><ellipse cx="369.9" cy="292.8" rx="2.3" ry="3.5" fill="#fff"/>
<path d="M326.1,306.4 Q327,298.3 326,290.2" stroke="#1a1a1a" stroke-width="5.2"/><ellipse cx="326" cy="290.2" rx="2.9" ry="4.1" fill="#1a1a1a"/>
<path d="M326.1,306.4 Q327,298.3 326,290.2" stroke="#fff" stroke-width="3.9"/><ellipse cx="326" cy="290.2" rx="2.3" ry="3.4" fill="#fff"/>
<path d="M432.8,306.7 Q431.8,298.9 432.1,291.1" stroke="#1a1a1a" stroke-width="5.7"/><ellipse cx="432.1" cy="291.1" rx="3.2" ry="4.4" fill="#1a1a1a"/>
<path d="M432.8,306.7 Q431.8,298.9 432.1,291.1" stroke="#fff" stroke-width="4.4"/><ellipse cx="432.1" cy="291.1" rx="2.5" ry="3.8" fill="#fff"/>
<path d="M360.4,307.1 Q358.7,300.5 360.3,294" stroke="#1a1a1a" stroke-width="5.4"/><ellipse cx="360.3" cy="294" rx="3" ry="4.2" fill="#1a1a1a"/>
<path d="M360.4,307.1 Q358.7,300.5 360.3,294" stroke="#fff" stroke-width="4.1"/><ellipse cx="360.3" cy="294" rx="2.3" ry="3.5" fill="#fff"/>
<path d="M414.3,307.7 Q411.6,301.4 412.5,295.2" stroke="#1a1a1a" stroke-width="5.7"/><ellipse cx="412.5" cy="295.2" rx="3.2" ry="4.4" fill="#1a1a1a"/>
<path d="M414.3,307.7 Q411.6,301.4 412.5,295.2" stroke="#fff" stroke-width="4.4"/><ellipse cx="412.5" cy="295.2" rx="2.5" ry="3.8" fill="#fff"/>
<path d="M341.8,307.9 Q343,302.1 340.3,296.3" stroke="#1a1a1a" stroke-width="5.5"/><ellipse cx="340.3" cy="296.3" rx="3.1" ry="4.3" fill="#1a1a1a"/>
<path d="M341.8,307.9 Q343,302.1 340.3,296.3" stroke="#fff" stroke-width="4.2"/><ellipse cx="340.3" cy="296.3" rx="2.4" ry="3.6" fill="#fff"/>
<path d="M437.8,308.1 Q435.3,300.2 436.1,292.2" stroke="#1a1a1a" stroke-width="5.9"/><ellipse cx="436.1" cy="292.2" rx="3.2" ry="4.5" fill="#1a1a1a"/>
<path d="M437.8,308.1 Q435.3,300.2 436.1,292.2" stroke="#fff" stroke-width="4.6"/><ellipse cx="436.1" cy="292.2" rx="2.6" ry="3.9" fill="#fff"/>
<path d="M351,308.4 Q350.6,302.4 350.6,296.4" stroke="#1a1a1a" stroke-width="5.5"/><ellipse cx="350.6" cy="296.4" rx="3" ry="4.2" fill="#1a1a1a"/>
<path d="M351,308.4 Q350.6,302.4 350.6,296.4" stroke="#fff" stroke-width="4.2"/><ellipse cx="350.6" cy="296.4" rx="2.4" ry="3.6" fill="#fff"/>
<path d="M403.6,308.4 Q404,302.1 403,295.7" stroke="#1a1a1a" stroke-width="5.4"/><ellipse cx="403" cy="295.7" rx="3" ry="4.2" fill="#1a1a1a"/>
<path d="M403.6,308.4 Q404,302.1 403,295.7" stroke="#fff" stroke-width="4.1"/><ellipse cx="403" cy="295.7" rx="2.4" ry="3.6" fill="#fff"/>
<path d="M331.6,308.5 Q329.8,300.9 331,293.3" stroke="#1a1a1a" stroke-width="5.8"/><ellipse cx="331" cy="293.3" rx="3.2" ry="4.5" fill="#1a1a1a"/>
<path d="M331.6,308.5 Q329.8,300.9 331,293.3" stroke="#fff" stroke-width="4.5"/><ellipse cx="331" cy="293.3" rx="2.5" ry="3.8" fill="#fff"/>
<path d="M321.1,308.7 Q320.2,300.8 320.3,293" stroke="#1a1a1a" stroke-width="5.3"/><ellipse cx="320.3" cy="293" rx="3" ry="4.1" fill="#1a1a1a"/>
<path d="M321.1,308.7 Q320.2,300.8 320.3,293" stroke="#fff" stroke-width="4"/><ellipse cx="320.3" cy="293" rx="2.3" ry="3.5" fill="#fff"/>
<path d="M394.4,309 Q392.5,301.4 392.6,293.8" stroke="#1a1a1a" stroke-width="5.3"/><ellipse cx="392.6" cy="293.8" rx="2.9" ry="4.1" fill="#1a1a1a"/>
<path d="M394.4,309 Q392.5,301.4 392.6,293.8" stroke="#fff" stroke-width="4"/><ellipse cx="392.6" cy="293.8" rx="2.3" ry="3.4" fill="#fff"/>
<path d="M384.3,309 Q383.2,302.9 383.5,296.8" stroke="#1a1a1a" stroke-width="5.8"/><ellipse cx="383.5" cy="296.8" rx="3.2" ry="4.5" fill="#1a1a1a"/>
<path d="M384.3,309 Q383.2,302.9 383.5,296.8" stroke="#fff" stroke-width="4.5"/><ellipse cx="383.5" cy="296.8" rx="2.6" ry="3.8" fill="#fff"/>
<path d="M419.5,309.6 Q417.9,302.9 418.5,296.2" stroke="#1a1a1a" stroke-width="5.9"/><ellipse cx="418.5" cy="296.2" rx="3.2" ry="4.5" fill="#1a1a1a"/>
<path d="M419.5,309.6 Q417.9,302.9 418.5,296.2" stroke="#fff" stroke-width="4.6"/><ellipse cx="418.5" cy="296.2" rx="2.6" ry="3.9" fill="#fff"/>
<path d="M364.4,310 Q363,302.2 364.9,294.4" stroke="#1a1a1a" stroke-width="5.6"/><ellipse cx="364.9" cy="294.4" rx="3.1" ry="4.3" fill="#1a1a1a"/>
<path d="M364.4,310 Q363,302.2 364.9,294.4" stroke="#fff" stroke-width="4.3"/><ellipse cx="364.9" cy="294.4" rx="2.5" ry="3.7" fill="#fff"/>
<path d="M374,310 Q375.7,303 374,296.1" stroke="#1a1a1a" stroke-width="5.8"/><ellipse cx="374" cy="296.1" rx="3.2" ry="4.4" fill="#1a1a1a"/>
<path d="M374,310 Q375.7,303 374,296.1" stroke="#fff" stroke-width="4.5"/><ellipse cx="374" cy="296.1" rx="2.5" ry="3.8" fill="#fff"/>
<path d="M429.2,310 Q426.9,304.1 427.1,298.3" stroke="#1a1a1a" stroke-width="5.3"/><ellipse cx="427.1" cy="298.3" rx="3" ry="4.1" fill="#1a1a1a"/>
<path d="M429.2,310 Q426.9,304.1 427.1,298.3" stroke="#fff" stroke-width="4"/><ellipse cx="427.1" cy="298.3" rx="2.3" ry="3.5" fill="#fff"/>
<path d="M408.6,310.2 Q408.2,302 408.9,293.8" stroke="#1a1a1a" stroke-width="5.6"/><ellipse cx="408.9" cy="293.8" rx="3.1" ry="4.3" fill="#1a1a1a"/>
<path d="M408.6,310.2 Q408.2,302 408.9,293.8" stroke="#fff" stroke-width="4.3"/><ellipse cx="408.9" cy="293.8" rx="2.4" ry="3.6" fill="#fff"/>
<path d="M399.5,310.2 Q399.8,302.3 397.8,294.4" stroke="#1a1a1a" stroke-width="5.5"/><ellipse cx="397.8" cy="294.4" rx="3" ry="4.2" fill="#1a1a1a"/>
<path d="M399.5,310.2 Q399.8,302.3 397.8,294.4" stroke="#fff" stroke-width="4.2"/><ellipse cx="397.8" cy="294.4" rx="2.4" ry="3.6" fill="#fff"/>
<path d="M335.9,310.5 Q336,302.4 335.2,294.3" stroke="#1a1a1a" stroke-width="5.2"/><ellipse cx="335.2" cy="294.3" rx="2.9" ry="4" fill="#1a1a1a"/>
<path d="M335.9,310.5 Q336,302.4 335.2,294.3" stroke="#fff" stroke-width="3.9"/><ellipse cx="335.2" cy="294.3" rx="2.2" ry="3.4" fill="#fff"/>
<path d="M356,310.8 Q353.8,304.5 354,298.2" stroke="#1a1a1a" stroke-width="5.4"/><ellipse cx="354" cy="298.2" rx="3" ry="4.2" fill="#1a1a1a"/>
<path d="M356,310.8 Q353.8,304.5 354,298.2" stroke="#fff" stroke-width="4.1"/><ellipse cx="354" cy="298.2" rx="2.3" ry="3.5" fill="#fff"/>
<path d="M346,310.9 Q344.5,304.5 345.4,298.1" stroke="#1a1a1a" stroke-width="5.6"/><ellipse cx="345.4" cy="298.1" rx="3.1" ry="4.3" fill="#1a1a1a"/>
<path d="M346,310.9 Q344.5,304.5 345.4,298.1" stroke="#fff" stroke-width="4.3"/><ellipse cx="345.4" cy="298.1" rx="2.4" ry="3.7" fill="#fff"/>
<path d="M326.3,311.1 Q324.8,305.3 325.9,299.5" stroke="#1a1a1a" stroke-width="5.4"/><ellipse cx="325.9" cy="299.5" rx="3" ry="4.1" fill="#1a1a1a"/>
<path d="M326.3,311.1 Q324.8,305.3 325.9,299.5" stroke="#fff" stroke-width="4.1"/><ellipse cx="325.9" cy="299.5" rx="2.3" ry="3.5" fill="#fff"/>
<path d="M390.2,311.2 Q390.4,304.6 390.1,298.1" stroke="#1a1a1a" stroke-width="5.3"/><ellipse cx="390.1" cy="298.1" rx="2.9" ry="4.1" fill="#1a1a1a"/>
<path d="M390.2,311.2 Q390.4,304.6 390.1,298.1" stroke="#fff" stroke-width="4"/><ellipse cx="390.1" cy="298.1" rx="2.3" ry="3.4" fill="#fff"/>
<path d="M379.6,311.2 Q379.1,305.3 378.3,299.4" stroke="#1a1a1a" stroke-width="5.2"/><ellipse cx="378.3" cy="299.4" rx="2.9" ry="4" fill="#1a1a1a"/>
<path d="M379.6,311.2 Q379.1,305.3 378.3,299.4" stroke="#fff" stroke-width="3.9"/><ellipse cx="378.3" cy="299.4" rx="2.2" ry="3.4" fill="#fff"/>
<path d="M368.8,311.5 Q368.6,304.2 366.8,296.9" stroke="#1a1a1a" stroke-width="5.2"/><ellipse cx="366.8" cy="296.9" rx="2.9" ry="4" fill="#1a1a1a"/>
<path d="M368.8,311.5 Q368.6,304.2 366.8,296.9" stroke="#fff" stroke-width="3.9"/><ellipse cx="366.8" cy="296.9" rx="2.2" ry="3.4" fill="#fff"/>
<path d="M423.4,312.2 Q424.5,305.5 421.9,298.7" stroke="#1a1a1a" stroke-width="5.3"/><ellipse cx="421.9" cy="298.7" rx="3" ry="4.1" fill="#1a1a1a"/>
<path d="M423.4,312.2 Q424.5,305.5 421.9,298.7" stroke="#fff" stroke-width="4"/><ellipse cx="421.9" cy="298.7" rx="2.3" ry="3.5" fill="#fff"/>
<path d="M432.4,312.5 Q431.4,305.9 431,299.4" stroke="#1a1a1a" stroke-width="5.6"/><ellipse cx="431" cy="299.4" rx="3.1" ry="4.3" fill="#1a1a1a"/>
<path d="M432.4,312.5 Q431.4,305.9 431,299.4" stroke="#fff" stroke-width="4.3"/><ellipse cx="431" cy="299.4" rx="2.4" ry="3.6" fill="#fff"/>
<path d="M359.5,312.6 Q357.6,304.7 358.1,296.8" stroke="#1a1a1a" stroke-width="5.9"/><ellipse cx="358.1" cy="296.8" rx="3.2" ry="4.5" fill="#1a1a1a"/>
<path d="M359.5,312.6 Q357.6,304.7 358.1,296.8" stroke="#fff" stroke-width="4.6"/><ellipse cx="358.1" cy="296.8" rx="2.6" ry="3.9" fill="#fff"/>
<path d="M402.9,312.7 Q403.3,305.1 400.4,297.5" stroke="#1a1a1a" stroke-width="5.3"/><ellipse cx="400.4" cy="297.5" rx="2.9" ry="4.1" fill="#1a1a1a"/>
<path d="M402.9,312.7 Q403.3,305.1 400.4,297.5" stroke="#fff" stroke-width="4"/><ellipse cx="400.4" cy="297.5" rx="2.3" ry="3.4" fill="#fff"/>
<path d="M350.3,313.2 Q351.2,306.4 349,299.6" stroke="#1a1a1a" stroke-width="5.8"/><ellipse cx="349" cy="299.6" rx="3.2" ry="4.4" fill="#1a1a1a"/>
<path d="M350.3,313.2 Q351.2,306.4 349,299.6" stroke="#fff" stroke-width="4.5"/><ellipse cx="349" cy="299.6" rx="2.5" ry="3.8" fill="#fff"/>
<path d="M339.5,313.3 Q338.4,306.4 337,299.5" stroke="#1a1a1a" stroke-width="5.2"/><ellipse cx="337" cy="299.5" rx="2.9" ry="4" fill="#1a1a1a"/>
<path d="M339.5,313.3 Q338.4,306.4 337,299.5" stroke="#fff" stroke-width="3.9"/><ellipse cx="337" cy="299.5" rx="2.3" ry="3.4" fill="#fff"/>
<path d="M413.6,313.4 Q413,306 411.4,298.7" stroke="#1a1a1a" stroke-width="5.8"/><ellipse cx="411.4" cy="298.7" rx="3.2" ry="4.5" fill="#1a1a1a"/>
<path d="M413.6,313.4 Q413,306 411.4,298.7" stroke="#fff" stroke-width="4.5"/><ellipse cx="411.4" cy="298.7" rx="2.6" ry="3.8" fill="#fff"/>
<path d="M384.1,313.5 Q382.2,306.8 382.1,300.1" stroke="#1a1a1a" stroke-width="5.5"/><ellipse cx="382.1" cy="300.1" rx="3.1" ry="4.3" fill="#1a1a1a"/>
<path d="M384.1,313.5 Q382.2,306.8 382.1,300.1" stroke="#fff" stroke-width="4.2"/><ellipse cx="382.1" cy="300.1" rx="2.4" ry="3.6" fill="#fff"/>
<path d="M330.6,314 Q329.5,307 328.5,299.9" stroke="#1a1a1a" stroke-width="5.8"/><ellipse cx="328.5" cy="299.9" rx="3.2" ry="4.5" fill="#1a1a1a"/>
<path d="M330.6,314 Q329.5,307 328.5,299.9" stroke="#fff" stroke-width="4.5"/><ellipse cx="328.5" cy="299.9" rx="2.6" ry="3.9" fill="#fff"/>
<path d="M373.7,314.2 Q371.2,306.4 371.8,298.7" stroke="#1a1a1a" stroke-width="5.9"/><ellipse cx="371.8" cy="298.7" rx="3.2" ry="4.5" fill="#1a1a1a"/>
<path d="M373.7,314.2 Q371.2,306.4 371.8,298.7" stroke="#fff" stroke-width="4.6"/><ellipse cx="371.8" cy="298.7" rx="2.6" ry="3.9" fill="#fff"/>
<path d="M394.7,314.5 Q392.4,306.4 393.7,298.3" stroke="#1a1a1a" stroke-width="5.9"/><ellipse cx="393.7" cy="298.3" rx="3.2" ry="4.5" fill="#1a1a1a"/>
<path d="M394.7,314.5 Q392.4,306.4 393.7,298.3" stroke="#fff" stroke-width="4.6"/><ellipse cx="393.7" cy="298.3" rx="2.6" ry="3.9" fill="#fff"/>
<path d="M427.8,315.1 Q428.4,307 428,298.9" stroke="#1a1a1a" stroke-width="5.4"/><ellipse cx="428" cy="298.9" rx="3" ry="4.2" fill="#1a1a1a"/>
<path d="M427.8,315.1 Q428.4,307 428,298.9" stroke="#fff" stroke-width="4.1"/><ellipse cx="428" cy="298.9" rx="2.4" ry="3.5" fill="#fff"/>
<path d="M364.2,315.9 Q363,308 364,300.2" stroke="#1a1a1a" stroke-width="5.2"/><ellipse cx="364" cy="300.2" rx="2.9" ry="4" fill="#1a1a1a"/>
<path d="M364.2,315.9 Q363,308 364,300.2" stroke="#fff" stroke-width="3.9"/><ellipse cx="364" cy="300.2" rx="2.3" ry="3.4" fill="#fff"/>
<path d="M417.8,315.9 Q416.5,309.2 417.8,302.4" stroke="#1a1a1a" stroke-width="5.8"/><ellipse cx="417.8" cy="302.4" rx="3.2" ry="4.5" fill="#1a1a1a"/>
<path d="M417.8,315.9 Q416.5,309.2 417.8,302.4" stroke="#fff" stroke-width="4.5"/><ellipse cx="417.8" cy="302.4" rx="2.5" ry="3.8" fill="#fff"/>
<path d="M399.3,316 Q398.4,309.7 398.3,303.4" stroke="#1a1a1a" stroke-width="5.4"/><ellipse cx="398.3" cy="303.4" rx="3" ry="4.2" fill="#1a1a1a"/>
<path d="M399.3,316 Q398.4,309.7 398.3,303.4" stroke="#fff" stroke-width="4.1"/><ellipse cx="398.3" cy="303.4" rx="2.4" ry="3.5" fill="#fff"/>
<path d="M345.3,316.1 Q346.7,310.1 344.9,304" stroke="#1a1a1a" stroke-width="5.3"/><ellipse cx="344.9" cy="304" rx="2.9" ry="4.1" fill="#1a1a1a"/>
<path d="M345.3,316.1 Q346.7,310.1 344.9,304" stroke="#fff" stroke-width="4"/><ellipse cx="344.9" cy="304" rx="2.3" ry="3.4" fill="#fff"/>
<path d="M409,316.2 Q407,310.4 408.8,304.5" stroke="#1a1a1a" stroke-width="5.5"/><ellipse cx="408.8" cy="304.5" rx="3.1" ry="4.3" fill="#1a1a1a"/>
<path d="M409,316.2 Q407,310.4 408.8,304.5" stroke="#fff" stroke-width="4.2"/><ellipse cx="408.8" cy="304.5" rx="2.4" ry="3.6" fill="#fff"/>
<path d="M355.4,316.5 Q355.2,308.6 354.7,300.8" stroke="#1a1a1a" stroke-width="5.2"/><ellipse cx="354.7" cy="300.8" rx="2.9" ry="4" fill="#1a1a1a"/>
<path d="M355.4,316.5 Q355.2,308.6 354.7,300.8" stroke="#fff" stroke-width="3.9"/><ellipse cx="354.7" cy="300.8" rx="2.2" ry="3.4" fill="#fff"/>
<path d="M378.5,316.5 Q378.2,309.2 377.2,301.9" stroke="#1a1a1a" stroke-width="5.3"/><ellipse cx="377.2" cy="301.9" rx="3" ry="4.1" fill="#1a1a1a"/>
<path d="M378.5,316.5 Q378.2,309.2 377.2,301.9" stroke="#fff" stroke-width="4"/><ellipse cx="377.2" cy="301.9" rx="2.3" ry="3.5" fill="#fff"/>
<path d="M334.2,316.8 Q333.4,309.9 333.1,303.1" stroke="#1a1a1a" stroke-width="5.6"/><ellipse cx="333.1" cy="303.1" rx="3.1" ry="4.3" fill="#1a1a1a"/>
<path d="M334.2,316.8 Q333.4,309.9 333.1,303.1" stroke="#fff" stroke-width="4.3"/><ellipse cx="333.1" cy="303.1" rx="2.5" ry="3.7" fill="#fff"/>
<path d="M369.9,317.2 Q368.4,311.4 368.9,305.6" stroke="#1a1a1a" stroke-width="5.6"/><ellipse cx="368.9" cy="305.6" rx="3.1" ry="4.3" fill="#1a1a1a"/>
<path d="M369.9,317.2 Q368.4,311.4 368.9,305.6" stroke="#fff" stroke-width="4.3"/><ellipse cx="368.9" cy="305.6" rx="2.4" ry="3.7" fill="#fff"/>
<path d="M388.6,317.5 Q386.8,309.9 387.5,302.2" stroke="#1a1a1a" stroke-width="5.7"/><ellipse cx="387.5" cy="302.2" rx="3.2" ry="4.4" fill="#1a1a1a"/>
<path d="M388.6,317.5 Q386.8,309.9 387.5,302.2" stroke="#fff" stroke-width="4.4"/><ellipse cx="387.5" cy="302.2" rx="2.5" ry="3.8" fill="#fff"/>
<path d="M422.5,317.8 Q421.2,310.9 420.4,303.9" stroke="#1a1a1a" stroke-width="5.2"/><ellipse cx="420.4" cy="303.9" rx="2.9" ry="4" fill="#1a1a1a"/>
<path d="M422.5,317.8 Q421.2,310.9 420.4,303.9" stroke="#fff" stroke-width="3.9"/><ellipse cx="420.4" cy="303.9" rx="2.2" ry="3.4" fill="#fff"/>
<path d="M402.4,318.3 Q400,312.3 401.4,306.4" stroke="#1a1a1a" stroke-width="5.5"/><ellipse cx="401.4" cy="306.4" rx="3" ry="4.2" fill="#1a1a1a"/>
<path d="M402.4,318.3 Q400,312.3 401.4,306.4" stroke="#fff" stroke-width="4.2"/><ellipse cx="401.4" cy="306.4" rx="2.4" ry="3.6" fill="#fff"/>
<path d="M359.2,318.5 Q360.1,311.2 358.9,303.8" stroke="#1a1a1a" stroke-width="5.2"/><ellipse cx="358.9" cy="303.8" rx="2.9" ry="4" fill="#1a1a1a"/>
<path d="M359.2,318.5 Q360.1,311.2 358.9,303.8" stroke="#fff" stroke-width="3.9"/><ellipse cx="358.9" cy="303.8" rx="2.2" ry="3.3" fill="#fff"/>
<path d="M412,318.8 Q411,311.7 411,304.7" stroke="#1a1a1a" stroke-width="5.1"/><ellipse cx="411" cy="304.7" rx="2.9" ry="4" fill="#1a1a1a"/>
<path d="M412,318.8 Q411,311.7 411,304.7" stroke="#fff" stroke-width="3.8"/><ellipse cx="411" cy="304.7" rx="2.2" ry="3.3" fill="#fff"/>
<path d="M349.1,318.9 Q351.1,310.8 349.1,302.6" stroke="#1a1a1a" stroke-width="5.2"/><ellipse cx="349.1" cy="302.6" rx="2.9" ry="4" fill="#1a1a1a"/>
<path d="M349.1,318.9 Q351.1,310.8 349.1,302.6" stroke="#fff" stroke-width="3.9"/><ellipse cx="349.1" cy="302.6" rx="2.3" ry="3.4" fill="#fff"/>
<path d="M338.7,319.1 Q339.7,311.6 336.8,304" stroke="#1a1a1a" stroke-width="5.8"/><ellipse cx="336.8" cy="304" rx="3.2" ry="4.4" fill="#1a1a1a"/>
<path d="M338.7,319.1 Q339.7,311.6 336.8,304" stroke="#fff" stroke-width="4.5"/><ellipse cx="336.8" cy="304" rx="2.5" ry="3.8" fill="#fff"/>
<path d="M382.3,319.2 Q381.1,312.2 382.6,305.2" stroke="#1a1a1a" stroke-width="5.9"/><ellipse cx="382.6" cy="305.2" rx="3.2" ry="4.5" fill="#1a1a1a"/>
<path d="M382.3,319.2 Q381.1,312.2 382.6,305.2" stroke="#fff" stroke-width="4.6"/><ellipse cx="382.6" cy="305.2" rx="2.6" ry="3.9" fill="#fff"/>
<path d="M393.9,319.6 Q392.1,311.8 391.6,304.1" stroke="#1a1a1a" stroke-width="5.8"/><ellipse cx="391.6" cy="304.1" rx="3.2" ry="4.5" fill="#1a1a1a"/>
<path d="M393.9,319.6 Q392.1,311.8 391.6,304.1" stroke="#fff" stroke-width="4.5"/><ellipse cx="391.6" cy="304.1" rx="2.6" ry="3.9" fill="#fff"/>
<path d="M372.9,319.8 Q372.1,312.2 373.1,304.5" stroke="#1a1a1a" stroke-width="5.2"/><ellipse cx="373.1" cy="304.5" rx="2.9" ry="4" fill="#1a1a1a"/>
<path d="M372.9,319.8 Q372.1,312.2 373.1,304.5" stroke="#fff" stroke-width="3.9"/><ellipse cx="373.1" cy="304.5" rx="2.3" ry="3.4" fill="#fff"/>
<path d="M406.9,320.8 Q408,313 405.9,305.2" stroke="#1a1a1a" stroke-width="5.2"/><ellipse cx="405.9" cy="305.2" rx="2.9" ry="4" fill="#1a1a1a"/>
<path d="M406.9,320.8 Q408,313 405.9,305.2" stroke="#fff" stroke-width="3.9"/><ellipse cx="405.9" cy="305.2" rx="2.3" ry="3.4" fill="#fff"/>
<path d="M353.9,320.9 Q352.7,314.7 352.9,308.4" stroke="#1a1a1a" stroke-width="5.3"/><ellipse cx="352.9" cy="308.4" rx="3" ry="4.1" fill="#1a1a1a"/>
<path d="M353.9,320.9 Q352.7,314.7 352.9,308.4" stroke="#fff" stroke-width="4"/><ellipse cx="352.9" cy="308.4" rx="2.3" ry="3.5" fill="#fff"/>
<path d="M418.2,321 Q418.9,315.2 416.2,309.3" stroke="#1a1a1a" stroke-width="5.2"/><ellipse cx="416.2" cy="309.3" rx="2.9" ry="4.1" fill="#1a1a1a"/>
<path d="M418.2,321 Q418.9,315.2 416.2,309.3" stroke="#fff" stroke-width="3.9"/><ellipse cx="416.2" cy="309.3" rx="2.3" ry="3.4" fill="#fff"/>
<path d="M362.9,321.1 Q363,313.6 360.9,306.2" stroke="#1a1a1a" stroke-width="5.8"/><ellipse cx="360.9" cy="306.2" rx="3.2" ry="4.5" fill="#1a1a1a"/>
<path d="M362.9,321.1 Q363,313.6 360.9,306.2" stroke="#fff" stroke-width="4.5"/><ellipse cx="360.9" cy="306.2" rx="2.6" ry="3.8" fill="#fff"/>
<path d="M343.3,321.1 Q342.5,315.1 342.7,309" stroke="#1a1a1a" stroke-width="5.5"/><ellipse cx="342.7" cy="309" rx="3.1" ry="4.3" fill="#1a1a1a"/>
<path d="M343.3,321.1 Q342.5,315.1 342.7,309" stroke="#fff" stroke-width="4.2"/><ellipse cx="342.7" cy="309" rx="2.4" ry="3.6" fill="#fff"/>
<path d="M397.2,321.5 Q398.3,313.6 396.4,305.7" stroke="#1a1a1a" stroke-width="5.5"/><ellipse cx="396.4" cy="305.7" rx="3.1" ry="4.3" fill="#1a1a1a"/>
<path d="M397.2,321.5 Q398.3,313.6 396.4,305.7" stroke="#fff" stroke-width="4.2"/><ellipse cx="396.4" cy="305.7" rx="2.4" ry="3.6" fill="#fff"/>
<path d="M387.1,322 Q386.4,316 386.5,310" stroke="#1a1a1a" stroke-width="5.9"/><ellipse cx="386.5" cy="310" rx="3.2" ry="4.5" fill="#1a1a1a"/>
<path d="M387.1,322 Q386.4,316 386.5,310" stroke="#fff" stroke-width="4.6"/><ellipse cx="386.5" cy="310" rx="2.6" ry="3.9" fill="#fff"/>
<path d="M377.6,322.7 Q378.1,315 378,307.2" stroke="#1a1a1a" stroke-width="5.3"/><ellipse cx="378" cy="307.2" rx="3" ry="4.1" fill="#1a1a1a"/>
<path d="M377.6,322.7 Q378.1,315 378,307.2" stroke="#fff" stroke-width="4"/><ellipse cx="378" cy="307.2" rx="2.3" ry="3.5" fill="#fff"/>
<path d="M368.6,324 Q366.7,317.4 367.4,310.7" stroke="#1a1a1a" stroke-width="5.7"/><ellipse cx="367.4" cy="310.7" rx="3.2" ry="4.4" fill="#1a1a1a"/>
<path d="M368.6,324 Q366.7,317.4 367.4,310.7" stroke="#fff" stroke-width="4.4"/><ellipse cx="367.4" cy="310.7" rx="2.5" ry="3.8" fill="#fff"/>
<path d="M359.1,324.1 Q358.1,316.5 359.1,308.9" stroke="#1a1a1a" stroke-width="5.1"/><ellipse cx="359.1" cy="308.9" rx="2.9" ry="4" fill="#1a1a1a"/>
<path d="M359.1,324.1 Q358.1,316.5 359.1,308.9" stroke="#fff" stroke-width="3.8"/><ellipse cx="359.1" cy="308.9" rx="2.2" ry="3.3" fill="#fff"/>
<path d="M412.2,324.4 Q412.5,317 411.5,309.7" stroke="#1a1a1a" stroke-width="5.9"/><ellipse cx="411.5" cy="309.7" rx="3.2" ry="4.5" fill="#1a1a1a"/>
<path d="M412.2,324.4 Q412.5,317 411.5,309.7" stroke="#fff" stroke-width="4.6"/><ellipse cx="411.5" cy="309.7" rx="2.6" ry="3.9" fill="#fff"/>
<path d="M401.5,324.7 Q398.9,318.2 399.1,311.6" stroke="#1a1a1a" stroke-width="5.1"/><ellipse cx="399.1" cy="311.6" rx="2.9" ry="4" fill="#1a1a1a"/>
<path d="M401.5,324.7 Q398.9,318.2 399.1,311.6" stroke="#fff" stroke-width="3.8"/><ellipse cx="399.1" cy="311.6" rx="2.2" ry="3.3" fill="#fff"/>
<path d="M348.6,324.8 Q349.7,317.5 347.6,310.2" stroke="#1a1a1a" stroke-width="5.4"/><ellipse cx="347.6" cy="310.2" rx="3" ry="4.2" fill="#1a1a1a"/>
<path d="M348.6,324.8 Q349.7,317.5 347.6,310.2" stroke="#fff" stroke-width="4.1"/><ellipse cx="347.6" cy="310.2" rx="2.4" ry="3.6" fill="#fff"/>
<path d="M382.8,324.9 Q380.6,318.8 382.3,312.7" stroke="#1a1a1a" stroke-width="5.3"/><ellipse cx="382.3" cy="312.7" rx="2.9" ry="4.1" fill="#1a1a1a"/>
<path d="M382.8,324.9 Q380.6,318.8 382.3,312.7" stroke="#fff" stroke-width="4"/><ellipse cx="382.3" cy="312.7" rx="2.3" ry="3.4" fill="#fff"/>
<path d="M391.5,325.3 Q389.8,319.6 389.3,313.8" stroke="#1a1a1a" stroke-width="5.4"/><ellipse cx="389.3" cy="313.8" rx="3" ry="4.2" fill="#1a1a1a"/>
<path d="M391.5,325.3 Q389.8,319.6 389.3,313.8" stroke="#fff" stroke-width="4.1"/><ellipse cx="389.3" cy="313.8" rx="2.3" ry="3.5" fill="#fff"/>
<path d="M373.5,325.4 Q371.9,319.1 372.7,312.8" stroke="#1a1a1a" stroke-width="5.6"/><ellipse cx="372.7" cy="312.8" rx="3.1" ry="4.3" fill="#1a1a1a"/>
<path d="M373.5,325.4 Q371.9,319.1 372.7,312.8" stroke="#fff" stroke-width="4.3"/><ellipse cx="372.7" cy="312.8" rx="2.4" ry="3.7" fill="#fff"/>
<path d="M352.5,326.3 Q353.2,319 350.4,311.7" stroke="#1a1a1a" stroke-width="5.5"/><ellipse cx="350.4" cy="311.7" rx="3" ry="4.2" fill="#1a1a1a"/>
<path d="M352.5,326.3 Q353.2,319 350.4,311.7" stroke="#fff" stroke-width="4.2"/><ellipse cx="350.4" cy="311.7" rx="2.4" ry="3.6" fill="#fff"/>
<path d="M362.5,326.4 Q362,320 360.3,313.7" stroke="#1a1a1a" stroke-width="5.2"/><ellipse cx="360.3" cy="313.7" rx="2.9" ry="4" fill="#1a1a1a"/>
<path d="M362.5,326.4 Q362,320 360.3,313.7" stroke="#fff" stroke-width="3.9"/><ellipse cx="360.3" cy="313.7" rx="2.3" ry="3.4" fill="#fff"/>
<path d="M397.2,326.7 Q395.6,318.8 395.9,310.8" stroke="#1a1a1a" stroke-width="5.7"/><ellipse cx="395.9" cy="310.8" rx="3.2" ry="4.4" fill="#1a1a1a"/>
<path d="M397.2,326.7 Q395.6,318.8 395.9,310.8" stroke="#fff" stroke-width="4.4"/><ellipse cx="395.9" cy="310.8" rx="2.5" ry="3.8" fill="#fff"/>
<path d="M406.8,327.2 Q405.8,321.4 406,315.6" stroke="#1a1a1a" stroke-width="5.6"/><ellipse cx="406" cy="315.6" rx="3.1" ry="4.3" fill="#1a1a1a"/>
<path d="M406.8,327.2 Q405.8,321.4 406,315.6" stroke="#fff" stroke-width="4.3"/><ellipse cx="406" cy="315.6" rx="2.5" ry="3.7" fill="#fff"/>
<path d="M386.2,327.6 Q387.3,320.3 386.5,312.9" stroke="#1a1a1a" stroke-width="5.5"/><ellipse cx="386.5" cy="312.9" rx="3" ry="4.2" fill="#1a1a1a"/>
<path d="M386.2,327.6 Q387.3,320.3 386.5,312.9" stroke="#fff" stroke-width="4.2"/><ellipse cx="386.5" cy="312.9" rx="2.4" ry="3.6" fill="#fff"/>
<path d="M377.1,328.5 Q376.1,322.2 374.8,315.8" stroke="#1a1a1a" stroke-width="5.8"/><ellipse cx="374.8" cy="315.8" rx="3.2" ry="4.5" fill="#1a1a1a"/>
<path d="M377.1,328.5 Q376.1,322.2 374.8,315.8" stroke="#fff" stroke-width="4.5"/><ellipse cx="374.8" cy="315.8" rx="2.6" ry="3.8" fill="#fff"/>
<path d="M367.6,329.4 Q367.6,322.6 365.3,315.8" stroke="#1a1a1a" stroke-width="5.3"/><ellipse cx="365.3" cy="315.8" rx="2.9" ry="4.1" fill="#1a1a1a"/>
<path d="M367.6,329.4 Q367.6,322.6 365.3,315.8" stroke="#fff" stroke-width="4"/><ellipse cx="365.3" cy="315.8" rx="2.3" ry="3.4" fill="#fff"/>
<path d="M401,329.5 Q399.7,323.7 401.3,317.9" stroke="#1a1a1a" stroke-width="5.5"/><ellipse cx="401.3" cy="317.9" rx="3.1" ry="4.3" fill="#1a1a1a"/>
<path d="M401,329.5 Q399.7,323.7 401.3,317.9" stroke="#fff" stroke-width="4.2"/><ellipse cx="401.3" cy="317.9" rx="2.4" ry="3.6" fill="#fff"/>
<path d="M358,330 Q358.1,323.7 357.1,317.5" stroke="#1a1a1a" stroke-width="5.6"/><ellipse cx="357.1" cy="317.5" rx="3.1" ry="4.3" fill="#1a1a1a"/>
<path d="M358,330 Q358.1,323.7 357.1,317.5" stroke="#fff" stroke-width="4.3"/><ellipse cx="357.1" cy="317.5" rx="2.4" ry="3.7" fill="#fff"/>
<path d="M391.4,330.4 Q389.9,322.6 389.9,314.8" stroke="#1a1a1a" stroke-width="5.2"/><ellipse cx="389.9" cy="314.8" rx="2.9" ry="4.1" fill="#1a1a1a"/>
<path d="M391.4,330.4 Q389.9,322.6 389.9,314.8" stroke="#fff" stroke-width="3.9"/><ellipse cx="389.9" cy="314.8" rx="2.3" ry="3.4" fill="#fff"/>
<path d="M381,330.7 Q381.7,324.8 380.8,319" stroke="#1a1a1a" stroke-width="5.8"/><ellipse cx="380.8" cy="319" rx="3.2" ry="4.5" fill="#1a1a1a"/>
<path d="M381,330.7 Q381.7,324.8 380.8,319" stroke="#fff" stroke-width="4.5"/><ellipse cx="380.8" cy="319" rx="2.6" ry="3.8" fill="#fff"/>
<path d="M372.6,330.9 Q372.3,325.1 372.3,319.4" stroke="#1a1a1a" stroke-width="5.8"/><ellipse cx="372.3" cy="319.4" rx="3.2" ry="4.5" fill="#1a1a1a"/>
<path d="M372.6,330.9 Q372.3,325.1 372.3,319.4" stroke="#fff" stroke-width="4.5"/><ellipse cx="372.3" cy="319.4" rx="2.5" ry="3.8" fill="#fff"/>
<path d="M362.5,331.6 Q360,324 360.7,316.4" stroke="#1a1a1a" stroke-width="5.5"/><ellipse cx="360.7" cy="316.4" rx="3" ry="4.2" fill="#1a1a1a"/>
<path d="M362.5,331.6 Q360,324 360.7,316.4" stroke="#fff" stroke-width="4.2"/><ellipse cx="360.7" cy="316.4" rx="2.4" ry="3.6" fill="#fff"/>
<path d="M385.8,332.6 Q386,326.3 384.3,320" stroke="#1a1a1a" stroke-width="5.1"/><ellipse cx="384.3" cy="320" rx="2.9" ry="4" fill="#1a1a1a"/>
<path d="M385.8,332.6 Q386,326.3 384.3,320" stroke="#fff" stroke-width="3.8"/><ellipse cx="384.3" cy="320" rx="2.2" ry="3.3" fill="#fff"/>
<path d="M397.1,333.1 Q396,325.6 396.8,318.1" stroke="#1a1a1a" stroke-width="5.8"/><ellipse cx="396.8" cy="318.1" rx="3.2" ry="4.5" fill="#1a1a1a"/>
<path d="M397.1,333.1 Q396,325.6 396.8,318.1" stroke="#fff" stroke-width="4.5"/><ellipse cx="396.8" cy="318.1" rx="2.5" ry="3.8" fill="#fff"/>
<path d="M377.6,333.1 Q377.6,326 377.5,318.9" stroke="#1a1a1a" stroke-width="5.4"/><ellipse cx="377.5" cy="318.9" rx="3" ry="4.2" fill="#1a1a1a"/>
<path d="M377.6,333.1 Q377.6,326 377.5,318.9" stroke="#fff" stroke-width="4.1"/><ellipse cx="377.5" cy="318.9" rx="2.4" ry="3.6" fill="#fff"/>
<path d="M367.8,333.5 Q366.9,327.1 368.2,320.7" stroke="#1a1a1a" stroke-width="5.6"/><ellipse cx="368.2" cy="320.7" rx="3.1" ry="4.3" fill="#1a1a1a"/>
<path d="M367.8,333.5 Q366.9,327.1 368.2,320.7" stroke="#fff" stroke-width="4.3"/><ellipse cx="368.2" cy="320.7" rx="2.5" ry="3.7" fill="#fff"/>
<path d="M390.1,336.2 Q388.2,328.2 388.4,320.3" stroke="#1a1a1a" stroke-width="5.1"/><ellipse cx="388.4" cy="320.3" rx="2.9" ry="4" fill="#1a1a1a"/>
<path d="M390.1,336.2 Q388.2,328.2 388.4,320.3" stroke="#fff" stroke-width="3.8"/><ellipse cx="388.4" cy="320.3" rx="2.2" ry="3.3" fill="#fff"/>
<path d="M372.1,336.4 Q371.3,328.8 371.9,321.2" stroke="#1a1a1a" stroke-width="5.9"/><ellipse cx="371.9" cy="321.2" rx="3.2" ry="4.5" fill="#1a1a1a"/>
<path d="M372.1,336.4 Q371.3,328.8 371.9,321.2" stroke="#fff" stroke-width="4.6"/><ellipse cx="371.9" cy="321.2" rx="2.6" ry="3.9" fill="#fff"/>
<path d="M381,336.7 Q381.8,328.7 379.3,320.8" stroke="#1a1a1a" stroke-width="5.4"/><ellipse cx="379.3" cy="320.8" rx="3" ry="4.1" fill="#1a1a1a"/>
<path d="M381,336.7 Q381.8,328.7 379.3,320.8" stroke="#fff" stroke-width="4.1"/><ellipse cx="379.3" cy="320.8" rx="2.3" ry="3.5" fill="#fff"/>
<path d="M375.2,338.6 Q376.9,331.3 374.7,324" stroke="#1a1a1a" stroke-width="5.7"/><ellipse cx="374.7" cy="324" rx="3.1" ry="4.4" fill="#1a1a1a"/>
<path d="M375.2,338.6 Q376.9,331.3 374.7,324" stroke="#fff" stroke-width="4.4"/><ellipse cx="374.7" cy="324" rx="2.5" ry="3.7" fill="#fff"/>
<path d="M385,338.7 Q386.3,331.8 384.6,324.9" stroke="#1a1a1a" stroke-width="5.8"/><ellipse cx="384.6" cy="324.9" rx="3.2" ry="4.5" fill="#1a1a1a"/>
<path d="M385,338.7 Q386.3,331.8 384.6,324.9" stroke="#fff" stroke-width="4.5"/><ellipse cx="384.6" cy="324.9" rx="2.5" ry="3.8" fill="#fff"/>
<path d="M380.1,342.3 Q378.9,335.4 379.3,328.6" stroke="#1a1a1a" stroke-width="5.7"/><ellipse cx="379.3" cy="328.6" rx="3.1" ry="4.4" fill="#1a1a1a"/>
<path d="M380.1,342.3 Q378.9,335.4 379.3,328.6" stroke="#fff" stroke-width="4.4"/><ellipse cx="379.3" cy="328.6" rx="2.5" ry="3.7" fill="#fff"/>
</g>
<path d="M306.6,313.9 L310.8,316.2 L313.8,326.2 L309.6,323.9Z" fill="#111" stroke="none" stroke-width="0" />
<path d="M313.2,317.5 L317.3,319.8 L320.3,329.8 L316.2,327.5Z" fill="#111" stroke="none" stroke-width="0" />
<path d="M319.8,321.1 L323.9,323.4 L326.9,333.4 L322.8,331.1Z" fill="#111" stroke="none" stroke-width="0" />
<path d="M326.3,324.7 L330.5,327 L333.5,337 L329.3,334.7Z" fill="#111" stroke="none" stroke-width="0" />
<path d="M332.9,328.4 L337,330.6 L340,340.6 L335.9,338.4Z" fill="#111" stroke="none" stroke-width="0" />
<path d="M339.4,332 L343.6,334.3 L346.6,344.3 L342.4,342Z" fill="#111" stroke="none" stroke-width="0" />
<path d="M346,335.6 L350.1,337.9 L353.1,347.9 L349,345.6Z" fill="#111" stroke="none" stroke-width="0" />
<path d="M352.6,339.2 L356.7,341.5 L359.7,351.5 L355.6,349.2Z" fill="#111" stroke="none" stroke-width="0" />
<path d="M359.1,342.8 L363.3,345.1 L366.3,355.1 L362.1,352.8Z" fill="#111" stroke="none" stroke-width="0" />
<path d="M365.7,346.4 L369.8,348.7 L372.8,358.7 L368.7,356.4Z" fill="#111" stroke="none" stroke-width="0" />
<path d="M372.3,350.1 L376.4,352.3 L379.4,362.3 L375.3,360.1Z" fill="#111" stroke="none" stroke-width="0" />
<path d="M378.9,354 L384.4,350.8 L383.6,357.1 L378.1,360.3Z" fill="#111" stroke="none" stroke-width="0" />
<path d="M387.1,349.3 L392.5,346.2 L391.7,352.2 L386.3,355.3Z" fill="#111" stroke="none" stroke-width="0" />
<path d="M395.2,344.6 L400.7,341.5 L399.9,347.3 L394.4,350.4Z" fill="#111" stroke="none" stroke-width="0" />
<path d="M403.4,340 L408.9,336.8 L408.1,342.3 L402.6,345.5Z" fill="#111" stroke="none" stroke-width="0" />
<path d="M411.5,335.3 L417,332.2 L416.2,337.4 L410.7,340.6Z" fill="#111" stroke="none" stroke-width="0" />
<path d="M419.7,330.6 L425.2,327.5 L424.4,332.5 L418.9,335.6Z" fill="#111" stroke="none" stroke-width="0" />
<path d="M427.9,325.9 L433.3,322.8 L432.5,327.6 L427.1,330.7Z" fill="#111" stroke="none" stroke-width="0" />
<path d="M436,321.3 L441.5,318.1 L440.7,322.6 L435.2,325.8Z" fill="#111" stroke="none" stroke-width="0" />
<path d="M444.2,316.6 L449.7,313.5 L448.9,317.7 L443.4,320.9Z" fill="#111" stroke="none" stroke-width="0" />
<path d="M452.3,311.9 L457.8,308.8 L457,312.8 L451.5,315.9Z" fill="#111" stroke="none" stroke-width="0" />
<path d="M306.3,312.2 L378.5,352 L460.1,305.3" fill="none" stroke="#111" stroke-width="2.4" />
<line x1="310.4" y1="328" x2="310.4" y2="383.5" stroke="#555" stroke-width="0.8"/>
<path d="M281.1,398.9 L310.4,383.1 L310.4,393.3 L281.1,409.1Z" fill="#3b3b3b"/>
<text transform="translate(295.8,399.6) skewY(-28.3)" text-anchor="middle" font-family="Liberation Sans" font-size="9.8" fill="#d8d8d8" textLength="26.4" lengthAdjust="spacingAndGlyphs">Ultra-Soft</text>
<path d="M261.2,422 L310.4,394.5 L310.4,405 L261.2,432.5Z" fill="#3b3b3b"/>
<text transform="translate(285.8,417) skewY(-29.2)" text-anchor="middle" font-family="Liberation Sans" font-size="9.8" fill="#d8d8d8" textLength="44.3" lengthAdjust="spacingAndGlyphs">Microfibre Texture</text>
<path d="M324.5,523 C324.6,520.2 325.1,517.4 326,515 C326.9,512.6 328.3,510.4 330,508.5 C331.7,506.6 324.3,510.4 336,503.5 C347.7,496.6 381,477.9 400,467 C419,456.1 440.8,443.3 450,438 C459.2,432.7 453.4,435.6 455,435.2 C456.6,434.8 458.2,435 459.5,435.8 C460.8,436.6 461.8,438.4 463,440 C464.2,441.6 465.6,444.2 467,445.5 C468.4,446.8 470,447.4 471.5,447.6 C473,447.8 469.6,449.9 476,446.5 C482.4,443.1 500,432.8 510,427 C520,421.2 531.1,415.3 536,412 C540.9,408.7 538.3,409.7 539.5,407 C540.7,404.3 541.7,399.8 543,396 C544.3,392.2 545.6,387 547.4,384 C549.2,381 550.7,379.3 554,378 C557.3,376.7 562.7,376.1 567,376 C571.3,375.9 576.8,376.5 580,377.5 C583.2,378.5 584.8,379.2 586.5,382 C588.2,384.8 589.2,390 590.5,394 C591.8,398 592.8,403.2 594,406 C595.2,408.8 593.7,407.6 598,410.5 C602.3,413.4 612.5,419 620,423.5 C627.5,428 638.4,435.4 643,437.5 C647.6,439.6 646.2,437.2 647.5,436 C648.8,434.8 649.8,431.8 651,430 C652.2,428.2 653.5,426.5 655,425.5 C656.5,424.5 658.2,423.8 660,424 C661.8,424.2 664.2,425.2 666,427 C667.8,428.8 669.4,431.8 670.5,435 C671.6,438.2 672.4,442.5 672.5,446 C672.6,449.5 671.9,453 671,456 C670.1,459 668.8,461.6 667,464 C665.2,466.4 669.7,464.5 660,470.5 C650.3,476.5 638.8,482.6 608.8,500 C578.8,517.4 508.1,559.3 480,575 C451.9,590.7 448.7,590.1 440,594 C431.3,597.9 431.7,598.2 428,598.5 C424.3,598.8 421.8,597.9 418,596 C414.2,594.1 415.5,593.3 405,587 C394.5,580.7 366.7,564.8 355,558 C343.3,551.2 339.3,549 335,546 C330.7,543 330.6,542.3 329,540 C327.4,537.7 326.2,534.8 325.5,532 C324.8,529.2 324.4,525.8 324.5,523Z" fill="#fff" stroke="#333" stroke-width="1.1"/>
<line x1="497.5" y1="410" x2="497.5" y2="600" stroke="#777" stroke-width="0.9" stroke-dasharray="6 5" fill="none" />
<line x1="343.4" y1="585.2" x2="651.4" y2="407" stroke="#777" stroke-width="0.9" stroke-dasharray="6 5" fill="none" />
<line x1="421.3" y1="449.8" x2="577.2" y2="542.5" stroke="#777" stroke-width="0.9" stroke-dasharray="6 5" fill="none" />
<path d="M336,503.5 C346.7,497.4 381,477.9 400,467 C419,456.1 440.8,443.3 450,438 C459.2,432.7 453.4,435.6 455,435.2 C456.6,434.8 458.2,435 459.5,435.8 C460.8,436.6 461.8,438.4 463,440 C464.2,441.6 465.6,444.2 467,445.5 C468.4,446.8 470,447.4 471.5,447.6 C473,447.8 469.6,449.9 476,446.5 C482.4,443.1 500,432.8 510,427 C520,421.2 531.1,415.3 536,412 C540.9,408.7 538.3,409.7 539.5,407 C540.7,404.3 541.7,399.8 543,396 C544.3,392.2 545.6,387 547.4,384 C549.2,381 550.7,379.3 554,378 C557.3,376.7 562.7,376.1 567,376 C571.3,375.9 576.8,376.5 580,377.5 C583.2,378.5 584.8,379.2 586.5,382 C588.2,384.8 589.2,390 590.5,394 C591.8,398 592.8,403.2 594,406 C595.2,408.8 593.7,407.6 598,410.5 C602.3,413.4 612.5,419 620,423.5 C627.5,428 638.4,435.4 643,437.5 C647.6,439.6 646.2,437.2 647.5,436 C648.8,434.8 649.8,431.8 651,430 C652.2,428.2 653.5,426.5 655,425.5 C656.5,424.5 658.2,423.8 660,424 C661.8,424.2 665,426.5 666,427" fill="none" stroke="#333" stroke-width="2.7" />
<path d="M336,503.5 C346.7,497.4 381,477.9 400,467 C419,456.1 440.8,443.3 450,438 C459.2,432.7 453.4,435.6 455,435.2 C456.6,434.8 458.2,435 459.5,435.8 C460.8,436.6 461.8,438.4 463,440 C464.2,441.6 465.6,444.2 467,445.5 C468.4,446.8 470,447.4 471.5,447.6 C473,447.8 469.6,449.9 476,446.5 C482.4,443.1 500,432.8 510,427 C520,421.2 531.1,415.3 536,412 C540.9,408.7 538.3,409.7 539.5,407 C540.7,404.3 541.7,399.8 543,396 C544.3,392.2 545.6,387 547.4,384 C549.2,381 550.7,379.3 554,378 C557.3,376.7 562.7,376.1 567,376 C571.3,375.9 576.8,376.5 580,377.5 C583.2,378.5 584.8,379.2 586.5,382 C588.2,384.8 589.2,390 590.5,394 C591.8,398 592.8,403.2 594,406 C595.2,408.8 593.7,407.6 598,410.5 C602.3,413.4 612.5,419 620,423.5 C627.5,428 638.4,435.4 643,437.5 C647.6,439.6 646.2,437.2 647.5,436 C648.8,434.8 649.8,431.8 651,430 C652.2,428.2 653.5,426.5 655,425.5 C656.5,424.5 658.2,423.8 660,424 C661.8,424.2 665,426.5 666,427" fill="none" stroke="#fff" stroke-width="0.9" />
<path d="M334,505 C334.5,506.2 336.2,509.3 337,512 C337.8,514.7 337.8,517.3 339,521 C340.2,524.7 342,529.7 344,534 C346,538.3 348,543.3 351,547 C354,550.7 355.5,551.6 362,556 C368.5,560.4 383.5,569.3 390,573.4 C396.5,577.5 398.4,579 401,580.5 C403.6,582 404.4,582.9 405.8,582.6 C407.2,582.4 408.3,581.1 409.5,579 C410.7,576.9 411.8,572.1 413,570 C414.2,567.9 415.3,567.2 417,566.5 C418.7,565.8 420.8,565.2 423,566 C425.2,566.8 428.2,570.5 430.4,571.2 C432.6,571.9 427.7,573.6 436,570 C444.3,566.4 453,564.5 480,549.7 C507,535 577.4,493.4 598,481.5 C618.6,469.6 602.1,478.3 603.8,478 C605.5,477.7 606.6,478.2 608,479.5 C609.4,480.8 610.5,484.4 612,486 C613.5,487.6 615.3,488.7 617,489 C618.7,489.3 616.8,491 622,488 C627.2,485 642.7,475 648,471 C653.3,467 652.5,466.8 654,464 C655.5,461.2 656,457.3 657,454 C658,450.7 659.3,447.3 660,444 C660.7,440.7 661.2,437.2 661,434 C660.8,430.8 659.3,426.5 659,425" fill="none" stroke="#333" stroke-width="2.7" />
<path d="M334,505 C334.5,506.2 336.2,509.3 337,512 C337.8,514.7 337.8,517.3 339,521 C340.2,524.7 342,529.7 344,534 C346,538.3 348,543.3 351,547 C354,550.7 355.5,551.6 362,556 C368.5,560.4 383.5,569.3 390,573.4 C396.5,577.5 398.4,579 401,580.5 C403.6,582 404.4,582.9 405.8,582.6 C407.2,582.4 408.3,581.1 409.5,579 C410.7,576.9 411.8,572.1 413,570 C414.2,567.9 415.3,567.2 417,566.5 C418.7,565.8 420.8,565.2 423,566 C425.2,566.8 428.2,570.5 430.4,571.2 C432.6,571.9 427.7,573.6 436,570 C444.3,566.4 453,564.5 480,549.7 C507,535 577.4,493.4 598,481.5 C618.6,469.6 602.1,478.3 603.8,478 C605.5,477.7 606.6,478.2 608,479.5 C609.4,480.8 610.5,484.4 612,486 C613.5,487.6 615.3,488.7 617,489 C618.7,489.3 616.8,491 622,488 C627.2,485 642.7,475 648,471 C653.3,467 652.5,466.8 654,464 C655.5,461.2 656,457.3 657,454 C658,450.7 659.3,447.3 660,444 C660.7,440.7 661.2,437.2 661,434 C660.8,430.8 659.3,426.5 659,425" fill="none" stroke="#fff" stroke-width="0.9" />
<line x1="344" y1="524" x2="567" y2="400.5" stroke="#444" stroke-width="0.8"/>
<line x1="567" y1="400.5" x2="656" y2="449" stroke="#444" stroke-width="0.8"/>
<line x1="407.6" y1="583" x2="600" y2="472" stroke="#666" stroke-width="0.7"/>
<line x1="622" y1="488" x2="655" y2="469" stroke="#666" stroke-width="0.7"/>
<line x1="436" y1="592" x2="664" y2="460" stroke="#555" stroke-width="0.7"/>
<path d="M551,387 Q567.5,380.6 584,387" fill="none" stroke="#333" stroke-width="2.4" stroke-linecap="round"/>
<path d="M551,391 Q567.5,384.6 584,391" fill="none" stroke="#333" stroke-width="2.4" stroke-linecap="round"/>
<path d="M551,395 Q567.5,388.6 584,395" fill="none" stroke="#333" stroke-width="2.4" stroke-linecap="round"/>
<path d="M551,399.5 Q567.5,393.1 584,399.5" fill="none" stroke="#333" stroke-width="2.4" stroke-linecap="round"/>
<path d="M418,574.5 Q432.8,580.9 447.5,574.5" fill="none" stroke="#333" stroke-width="2.8" stroke-linecap="round"/>
<path d="M418,579.5 Q432.8,585.9 447.5,579.5" fill="none" stroke="#333" stroke-width="2.8" stroke-linecap="round"/>
<path d="M418,584.5 Q432.8,590.9 447.5,584.5" fill="none" stroke="#333" stroke-width="2.8" stroke-linecap="round"/>
<path d="M418,589.5 Q432.8,595.9 447.5,589.5" fill="none" stroke="#333" stroke-width="2.8" stroke-linecap="round"/>
<line x1="333" y1="508" x2="339" y2="509.2" stroke="#333" stroke-width="2.6"/>
<line x1="333" y1="513.3" x2="339" y2="514.5" stroke="#333" stroke-width="2.6"/>
<line x1="333" y1="518.6" x2="339" y2="519.8" stroke="#333" stroke-width="2.6"/>
<line x1="333" y1="523.9" x2="339" y2="525.1" stroke="#333" stroke-width="2.6"/>
<line x1="333" y1="529.2" x2="339" y2="530.4" stroke="#333" stroke-width="2.6"/>
<line x1="333" y1="534.5" x2="339" y2="535.7" stroke="#333" stroke-width="2.6"/>
<line x1="333" y1="539.8" x2="339" y2="541" stroke="#333" stroke-width="2.6"/>
<line x1="661" y1="433.2" x2="667.5" y2="432" stroke="#333" stroke-width="2.6"/>
<line x1="661" y1="438.5" x2="667.5" y2="437.3" stroke="#333" stroke-width="2.6"/>
<line x1="661" y1="443.8" x2="667.5" y2="442.6" stroke="#333" stroke-width="2.6"/>
<line x1="661" y1="449.1" x2="667.5" y2="447.9" stroke="#333" stroke-width="2.6"/>
<line x1="661" y1="454.4" x2="667.5" y2="453.2" stroke="#333" stroke-width="2.6"/>
<line x1="661" y1="459.7" x2="667.5" y2="458.5" stroke="#333" stroke-width="2.6"/>
<line x1="661" y1="465" x2="667.5" y2="463.8" stroke="#333" stroke-width="2.6"/>
<path d="M332,506 L332,544" fill="none" stroke="#333" stroke-width="2" />
<path d="M668,430 L668,468" fill="none" stroke="#333" stroke-width="2" />
<path d="M595.9,437.2 L597.2,436.6 L598.7,436.2 L600.3,435.9 L602,435.8 L603.7,435.9 L605.3,436.2 L606.7,436.6 L608,437.2 L640.1,455.8 L641.2,456.5 L641.9,457.4 L642.4,458.3 L642.6,459.2 L642.4,460.2 L641.9,461.1 L641.2,462 L640.1,462.8 L607.2,481.8 L605.9,482.4 L604.4,482.8 L602.8,483.1 L601.1,483.2 L599.4,483.1 L597.8,482.8 L596.4,482.4 L595.1,481.8 L563,463.2 L562,462.5 L561.2,461.6 L560.7,460.7 L560.5,459.8 L560.7,458.8 L561.2,457.9 L562,457 L563,456.2Z" fill="#fff" stroke="#333" stroke-width="2.4" />
<path d="M595.9,437.2 L597.2,436.6 L598.7,436.2 L600.3,435.9 L602,435.8 L603.7,435.9 L605.3,436.2 L606.7,436.6 L608,437.2 L640.1,455.8 L641.2,456.5 L641.9,457.4 L642.4,458.3 L642.6,459.2 L642.4,460.2 L641.9,461.1 L641.2,462 L640.1,462.8 L607.2,481.8 L605.9,482.4 L604.4,482.8 L602.8,483.1 L601.1,483.2 L599.4,483.1 L597.8,482.8 L596.4,482.4 L595.1,481.8 L563,463.2 L562,462.5 L561.2,461.6 L560.7,460.7 L560.5,459.8 L560.7,458.8 L561.2,457.9 L562,457 L563,456.2Z" fill="none" stroke="#fff" stroke-width="0.8" />
<circle cx="509.6" cy="496.5" r="2" fill="#333"/>
<path d="M509.6,496.5 L509.6,472.5 L557.2,448" fill="none" stroke="#444" stroke-width="0.7" />
<text transform="translate(513,470) skewY(-28)" font-family="Liberation Sans" font-size="7" fill="#444" textLength="46" lengthAdjust="spacingAndGlyphs">Dh-0,35 mm/ 3-25m²</text>
<circle cx="467.5" cy="565.3" r="2" fill="#333"/>
<path d="M467.5,565.3 L467.5,534.7 L416.2,505.4" fill="none" stroke="#444" stroke-width="0.7" />
<text transform="translate(418,503) skewY(30)" font-family="Liberation Sans" font-size="7" fill="#444" textLength="48" lengthAdjust="spacingAndGlyphs">Dh-0,5 mm/ 3-50m²</text>
<path d="M553.9,572.4 L555.7,571.5 L557.6,570.7 L559.7,570 L561.9,569.4 L564.1,568.9 L566.5,568.6 L568.8,568.4 L571.2,568.3 L573.6,568.4 L576,568.6 L578.3,568.9 L580.6,569.4 L582.8,570 L584.8,570.7 L586.8,571.5 L588.6,572.4 L666.8,617.6 L668.5,618.7 L669.9,619.8 L671.1,621 L672.2,622.2 L673,623.5 L673.5,624.9 L673.9,626.3 L674,627.6 L673.9,629 L673.5,630.4 L673,631.8 L672.2,633.1 L671.1,634.3 L669.9,635.5 L668.5,636.6 L666.8,637.6 L444.3,766.1 L442.5,767.1 L440.6,767.9 L438.5,768.6 L436.3,769.2 L434.1,769.7 L431.7,770 L429.4,770.2 L427,770.3 L424.6,770.2 L422.2,770 L419.9,769.7 L417.6,769.2 L415.4,768.6 L413.4,767.9 L411.4,767.1 L409.6,766.1 L331.4,720.9 L329.7,719.9 L328.3,718.8 L327.1,717.6 L326,716.4 L325.2,715.1 L324.7,713.7 L324.3,712.3 L324.2,711 L324.3,709.6 L324.7,708.2 L325.2,706.8 L326,705.5 L327.1,704.3 L328.3,703.1 L329.7,702 L331.4,700.9Z" fill="#fff" stroke="#222" stroke-width="1.6" />
<path d="M553.9,556.4 L555.7,555.5 L557.6,554.7 L559.7,554 L561.9,553.4 L564.1,552.9 L566.5,552.6 L568.8,552.4 L571.2,552.3 L573.6,552.4 L576,552.6 L578.3,552.9 L580.6,553.4 L582.8,554 L584.8,554.7 L586.8,555.5 L588.6,556.4 L666.8,601.6 L668.5,602.7 L669.9,603.8 L671.1,605 L672.2,606.2 L673,607.5 L673.5,608.9 L673.9,610.3 L674,611.6 L673.9,613 L673.5,614.4 L673,615.8 L672.2,617.1 L671.1,618.3 L669.9,619.5 L668.5,620.6 L666.8,621.6 L444.3,750.1 L442.5,751.1 L440.6,751.9 L438.5,752.6 L436.3,753.2 L434.1,753.7 L431.7,754 L429.4,754.2 L427,754.3 L424.6,754.2 L422.2,754 L419.9,753.7 L417.6,753.2 L415.4,752.6 L413.4,751.9 L411.4,751.1 L409.6,750.1 L331.4,704.9 L329.7,703.9 L328.3,702.8 L327.1,701.6 L326,700.4 L325.2,699.1 L324.7,697.7 L324.3,696.3 L324.2,695 L324.3,693.6 L324.7,692.2 L325.2,690.8 L326,689.5 L327.1,688.3 L328.3,687.1 L329.7,686 L331.4,684.9Z" fill="#fff" stroke="none" stroke-width="0" />
<line x1="324.2" y1="710.9" x2="324.2" y2="694.9" stroke="#222" stroke-width="1.5"/>
<line x1="674" y1="627.6" x2="674" y2="611.6" stroke="#222" stroke-width="1.5"/>
<path d="M324.2,695 L324.3,693.6 L324.7,692.2 L325.2,690.8 L326,689.5 L327.1,688.3 L328.3,687.1 L329.7,686 L331.4,684.9 L553.9,556.4 L555.7,555.5 L557.6,554.7 L559.7,554 L561.9,553.4 L564.1,552.9 L566.5,552.6 L568.8,552.4 L571.2,552.3 L573.6,552.4 L576,552.6 L578.3,552.9 L580.6,553.4 L582.8,554 L584.8,554.7 L586.8,555.5 L588.6,556.4 L666.8,601.6 L668.5,602.7 L669.9,603.8 L671.1,605 L672.2,606.2 L673,607.5 L673.5,608.9 L673.9,610.3 L674,611.6" fill="none" stroke="#1a1a1a" stroke-width="1.8" />
<path d="M327.9,694.9 L328,693.8 L328.3,692.6 L328.8,691.5 L329.4,690.3 L330.3,689.3 L331.4,688.3 L332.6,687.3 L334,686.4 L556.5,557.9 L558,557.2 L559.7,556.5 L561.4,555.8 L563.3,555.3 L565.2,554.9 L567.2,554.7 L569.2,554.5 L571.2,554.4 L573.3,554.5 L575.3,554.7 L577.3,554.9 L579.2,555.3 L581.1,555.8 L582.8,556.5 L584.4,557.2 L586,557.9 L664.2,603.1 L665.6,604 L666.8,605 L667.9,606 L668.8,607 L669.4,608.2 L669.9,609.3 L670.2,610.5 L670.3,611.6" fill="none" stroke="#666" stroke-width="0.7" />
<path d="M330.3,694.9 L330.4,693.9 L330.7,692.9 L331.1,691.9 L331.7,690.9 L332.5,690 L333.4,689.1 L334.5,688.2 L335.7,687.4 L558.2,558.9 L559.6,558.3 L561,557.6 L562.6,557.1 L564.2,556.7 L565.9,556.3 L567.7,556 L569.4,555.9 L571.2,555.8 L573,555.9 L574.8,556 L576.6,556.3 L578.3,556.7 L579.9,557.1 L581.4,557.6 L582.9,558.3 L584.2,558.9 L662.5,604.1 L663.7,604.9 L664.8,605.8 L665.7,606.7 L666.5,607.6 L667.1,608.6 L667.5,609.6 L667.8,610.6 L667.9,611.6" fill="none" stroke="#444" stroke-width="0.8" />
<line x1="343.4" y1="758.8" x2="668" y2="571" stroke="#777" stroke-width="0.9" stroke-dasharray="6 5" fill="none" />
<line x1="400" y1="612" x2="600" y2="727" stroke="#777" stroke-width="0.9" stroke-dasharray="6 5" fill="none" />
<line x1="497.5" y1="600" x2="497.5" y2="675" stroke="#777" stroke-width="0.9" stroke-dasharray="6 5" fill="none" />
<clipPath id="in3"><path d="M561.3,560.7 L562.3,560.2 L563.4,559.7 L564.6,559.3 L565.8,558.9 L567.1,558.7 L568.5,558.5 L569.9,558.4 L571.2,558.3 L572.6,558.4 L574,558.5 L575.3,558.7 L576.6,558.9 L577.9,559.3 L579.1,559.7 L580.2,560.2 L581.2,560.7 L659.5,605.9 L660.4,606.5 L661.2,607.1 L661.9,607.8 L662.5,608.5 L663,609.3 L663.3,610.1 L663.5,610.9 L663.6,611.6 L663.5,612.4 L663.3,613.2 L663,614 L662.5,614.8 L661.9,615.5 L661.2,616.2 L660.4,616.8 L659.5,617.4 L436.9,745.9 L435.9,746.4 L434.8,746.9 L433.6,747.3 L432.4,747.7 L431.1,747.9 L429.7,748.1 L428.3,748.2 L427,748.3 L425.6,748.2 L424.2,748.1 L422.9,747.9 L421.6,747.7 L420.3,747.3 L419.1,746.9 L418,746.4 L417,745.9 L338.7,700.7 L337.8,700.1 L337,699.5 L336.3,698.8 L335.7,698.1 L335.2,697.3 L334.9,696.5 L334.7,695.7 L334.6,694.9 L334.7,694.2 L334.9,693.4 L335.2,692.6 L335.7,691.8 L336.3,691.1 L337,690.4 L337.8,689.8 L338.7,689.2Z"/></clipPath>
<g clip-path="url(#in3)">
<path d="M560.8,578.9 L561.9,578.4 L563.1,577.9 L564.3,577.5 L565.6,577.1 L567,576.8 L568.4,576.6 L569.8,576.5 L571.2,576.5 L572.7,576.5 L574.1,576.6 L575.5,576.8 L576.9,577.1 L578.2,577.5 L579.4,577.9 L580.6,578.4 L581.6,578.9 L655.6,621.6 L656.6,622.3 L657.4,622.9 L658.2,623.7 L658.8,624.4 L659.3,625.2 L659.6,626 L659.8,626.8 L659.9,627.6 L659.8,628.5 L659.6,629.3 L659.3,630.1 L658.8,630.9 L658.2,631.6 L657.4,632.4 L656.6,633 L655.6,633.6 L437.4,759.6 L436.3,760.2 L435.1,760.7 L433.9,761.1 L432.6,761.5 L431.2,761.8 L429.8,762 L428.4,762.1 L427,762.1 L425.5,762.1 L424.1,762 L422.7,761.8 L421.3,761.5 L420,761.1 L418.8,760.7 L417.6,760.2 L416.6,759.6 L342.6,716.9 L341.6,716.3 L340.8,715.7 L340,714.9 L339.4,714.2 L338.9,713.4 L338.6,712.6 L338.4,711.8 L338.3,711 L338.4,710.1 L338.6,709.3 L338.9,708.5 L339.4,707.7 L340,707 L340.8,706.2 L341.6,705.6 L342.6,704.9Z" fill="none" stroke="#333" stroke-width="0.9" />
<path d="M599.6,608.3 L600.7,607.8 L601.9,607.4 L603.3,607.1 L604.8,607.1 L606.2,607.1 L607.6,607.4 L608.8,607.8 L609.9,608.3 L639.4,625.3 L640.3,625.9 L641,626.7 L641.4,627.5 L641.5,628.3 L641.4,629.1 L641,629.9 L640.3,630.7 L639.4,631.3 L603,652.3 L601.9,652.8 L600.6,653.2 L599.3,653.5 L597.8,653.5 L596.4,653.5 L595,653.2 L593.7,652.8 L592.6,652.3 L563.2,635.3 L562.3,634.7 L561.6,633.9 L561.2,633.1 L561,632.3 L561.2,631.5 L561.6,630.7 L562.3,629.9 L563.2,629.3Z" fill="#fff" stroke="#222" stroke-width="1.4" />
<path d="M599.6,610.3 L600.7,609.8 L601.9,609.4 L603.3,609.1 L604.8,609.1 L606.2,609.1 L607.6,609.4 L608.8,609.8 L609.9,610.3 L639.4,627.3 L640.3,627.9 L641,628.7 L641.4,629.5 L641.5,630.3 L641.4,631.1 L641,631.9 L640.3,632.7 L639.4,633.3 L603,654.3 L601.9,654.8 L600.6,655.2 L599.3,655.5 L597.8,655.5 L596.4,655.5 L595,655.2 L593.7,654.8 L592.6,654.3 L563.2,637.3 L562.3,636.7 L561.6,635.9 L561.2,635.1 L561,634.3 L561.2,633.5 L561.6,632.7 L562.3,631.9 L563.2,631.3Z" fill="none" stroke="#777" stroke-width="0.6" />
</g>
<path d="M561.3,560.7 L562.3,560.2 L563.4,559.7 L564.6,559.3 L565.8,558.9 L567.1,558.7 L568.5,558.5 L569.9,558.4 L571.2,558.3 L572.6,558.4 L574,558.5 L575.3,558.7 L576.6,558.9 L577.9,559.3 L579.1,559.7 L580.2,560.2 L581.2,560.7 L659.5,605.9 L660.4,606.5 L661.2,607.1 L661.9,607.8 L662.5,608.5 L663,609.3 L663.3,610.1 L663.5,610.9 L663.6,611.6 L663.5,612.4 L663.3,613.2 L663,614 L662.5,614.8 L661.9,615.5 L661.2,616.2 L660.4,616.8 L659.5,617.4 L436.9,745.9 L435.9,746.4 L434.8,746.9 L433.6,747.3 L432.4,747.7 L431.1,747.9 L429.7,748.1 L428.3,748.2 L427,748.3 L425.6,748.2 L424.2,748.1 L422.9,747.9 L421.6,747.7 L420.3,747.3 L419.1,746.9 L418,746.4 L417,745.9 L338.7,700.7 L337.8,700.1 L337,699.5 L336.3,698.8 L335.7,698.1 L335.2,697.3 L334.9,696.5 L334.7,695.7 L334.6,694.9 L334.7,694.2 L334.9,693.4 L335.2,692.6 L335.7,691.8 L336.3,691.1 L337,690.4 L337.8,689.8 L338.7,689.2Z" fill="none" stroke="#111" stroke-width="2.5" />
<rect x="-29" y="-9" width="58" height="18" rx="9" transform="translate(487,605) rotate(-30)" fill="none" stroke="#888" stroke-width="0.7"/>
<rect x="-9.5" y="-3.8" width="19" height="7.5" rx="3.8" transform="translate(475.5,612.5) rotate(-30)" fill="#fff" stroke="#222" stroke-width="1.6"/>
<rect x="-9.5" y="-3.8" width="19" height="7.5" rx="3.8" transform="translate(497.5,598.5) rotate(-30)" fill="#fff" stroke="#222" stroke-width="1.6"/>
<rect x="-8.5" y="-4.2" width="17" height="8.5" rx="4.2" transform="translate(526.5,583) rotate(-30)" fill="#fff" stroke="#222" stroke-width="1.6"/>
<line x1="512" y1="586" x2="514" y2="618" stroke="#888" stroke-width="0.6"/>
<line x1="534" y1="576" x2="536" y2="604" stroke="#888" stroke-width="0.6"/>
<rect x="-16.5" y="-4.5" width="33" height="9" rx="4.5" transform="translate(628.5,651) rotate(-30)" fill="#fff" stroke="#222" stroke-width="1.9"/>
<rect x="-21" y="-8" width="42" height="16" rx="8" transform="translate(628.5,651) rotate(-30)" fill="none" stroke="#777" stroke-width="0.7"/>
<rect x="-12.5" y="-7" width="25" height="14" rx="7" transform="translate(373.8,731) rotate(30)" fill="#fff" stroke="#222" stroke-width="1.9"/>
<rect x="-9" y="-4.5" width="18" height="9" rx="4.5" transform="translate(375,732.5) rotate(30)" fill="none" stroke="#555" stroke-width="0.7"/>
<circle cx="339" cy="709.5" r="1.3" fill="none" stroke="#222" stroke-width="1.1"/>
<circle cx="396" cy="742.5" r="1.3" fill="none" stroke="#222" stroke-width="1.1"/>
<circle cx="342.6" cy="711.8" r="1.3" fill="none" stroke="#222" stroke-width="1.1"/>
<circle cx="399.6" cy="744.8" r="1.3" fill="none" stroke="#222" stroke-width="1.1"/>
<circle cx="346.2" cy="714.1" r="1.3" fill="none" stroke="#222" stroke-width="1.1"/>
<circle cx="403.2" cy="747.1" r="1.3" fill="none" stroke="#222" stroke-width="1.1"/>
<circle cx="349.8" cy="716.4" r="1.3" fill="none" stroke="#222" stroke-width="1.1"/>
<circle cx="406.8" cy="749.4" r="1.3" fill="none" stroke="#222" stroke-width="1.1"/>
<circle cx="353.4" cy="718.7" r="1.3" fill="none" stroke="#222" stroke-width="1.1"/>
<circle cx="410.4" cy="751.7" r="1.3" fill="none" stroke="#222" stroke-width="1.1"/>
<path d="M357,698 L425,737 L468,712" fill="none" stroke="#777" stroke-width="0.7" />
<path d="M355,697 L361,699 L359,702Z M391,718 L397,720 L395,723Z" fill="#444"/>
<line x1="360" y1="700" x2="360" y2="728" stroke="#888" stroke-width="0.6"/>
<line x1="384" y1="713" x2="384" y2="745" stroke="#888" stroke-width="0.6"/>
<text transform="translate(432,724) skewY(-28)" font-family="Liberation Sans" font-size="7.5" fill="#555" textLength="26" lengthAdjust="spacingAndGlyphs">Rx (0,0488)</text>
<path d="M522,594 L548,609 L501.6,636" fill="none" stroke="#777" stroke-width="0.7" />
<line x1="516" y1="583" x2="516" y2="602" stroke="#999" stroke-width="0.6"/>
<text transform="translate(506,630) skewY(-30)" font-family="Liberation Sans" font-size="8" fill="#666" textLength="27" lengthAdjust="spacingAndGlyphs">0,25X - (UP)</text>
<line x1="603" y1="640" x2="603" y2="700" stroke="#777" stroke-width="0.9" stroke-dasharray="6 5" fill="none" />
<line x1="588" y1="624" x2="618" y2="641" stroke="#777" stroke-width="0.9" stroke-dasharray="6 5" fill="none" />
<line x1="588" y1="641" x2="618" y2="624" stroke="#777" stroke-width="0.9" stroke-dasharray="6 5" fill="none" />
<line x1="676" y1="607" x2="676" y2="640" stroke="#777" stroke-width="0.7"/>
<line x1="668" y1="602" x2="684" y2="612" stroke="#777" stroke-width="0.7"/>
<line x1="668" y1="612" x2="684" y2="602" stroke="#777" stroke-width="0.7"/>
<line x1="668" y1="635" x2="684" y2="645" stroke="#777" stroke-width="0.7"/>
<line x1="668" y1="645" x2="684" y2="635" stroke="#777" stroke-width="0.7"/>
<line x1="322" y1="685" x2="322" y2="718" stroke="#777" stroke-width="0.7"/>
<line x1="315" y1="681" x2="330" y2="690" stroke="#777" stroke-width="0.7"/>
<line x1="315" y1="690" x2="330" y2="681" stroke="#777" stroke-width="0.7"/>
<line x1="315" y1="711" x2="330" y2="720" stroke="#777" stroke-width="0.7"/>
<line x1="315" y1="720" x2="330" y2="711" stroke="#777" stroke-width="0.7"/>
<line x1="433" y1="750" x2="433" y2="782" stroke="#888" stroke-width="0.7"/>
<line x1="425" y1="747" x2="441" y2="756" stroke="#888" stroke-width="0.7"/>
<line x1="425" y1="756" x2="441" y2="747" stroke="#888" stroke-width="0.7"/>
<line x1="425" y1="774" x2="441" y2="783" stroke="#888" stroke-width="0.7"/>
<line x1="425" y1="783" x2="441" y2="774" stroke="#888" stroke-width="0.7"/>
<line x1="563.7" y1="538" x2="563.7" y2="577" stroke="#888" stroke-width="0.6"/>
<line x1="555.7" y1="543.5" x2="571.7" y2="552.5" stroke="#888" stroke-width="0.6"/>
<line x1="555.7" y1="552.5" x2="571.7" y2="543.5" stroke="#888" stroke-width="0.6"/>
<line x1="555.7" y1="568" x2="571.7" y2="577" stroke="#888" stroke-width="0.6"/>
<line x1="555.7" y1="577" x2="571.7" y2="568" stroke="#888" stroke-width="0.6"/>
<g fill="#fff" stroke="#333" stroke-width="1">
<path d="M216.8,579.6 L224.2,573.8 Q258.8,598 293.5,573.3 L301.3,579.6 L301.3,619.7 L293.5,615 Q258.8,648 224.2,615 L216.8,619.7 Z"/>
<path d="M216.8,579.6 Q258.8,606 301.3,579.6" fill="none"/>
<path d="M232.5,588 Q258.8,604 285.7,588" fill="none" stroke-width="1.2"/>
<path d="M232.5,591.5 Q258.8,607 285.7,591.5" fill="none" stroke-width="0.7"/>
<path d="M232.5,588 L232.5,624 Q258.8,643 285.7,624 L285.7,588" fill="none"/>
<path d="M216.8,619.7 L224.2,624.5 M301.3,619.7 L293.5,624.5" fill="none"/>
<path d="M233,584 L238,591.5 M249,589.5 L250.5,596 M268,589.5 L267,596 M284,584 L279,591.5" fill="none" stroke-width="0.8"/>
<path d="M250,596 L250,634 M267.5,596 L267.5,634" fill="none" stroke-width="0.7"/>
</g>
<g stroke="#777" stroke-width="0.6">
<path d="M235,586 L238,588 M238,587 L242,590 M241,588 L245,591 M244,589.5 L248,592"/>
<path d="M271,592 L275,589.5 M274,591 L278,588 M277,590 L281,587 M280,588.5 L283,586"/>
</g>
<path d="M237,597.5 Q258.8,606.5 281.5,597.5 A2,2 0 0 1 281.5,601.5 Q258.8,610.5 237,601.5 A2,2 0 0 1 237,597.5 Z" fill="#fff" stroke="#111" stroke-width="1.9"/>
<path d="M240,599.8 Q258.8,608 278,599.8" fill="none" stroke="#888" stroke-width="0.6"/>
<path d="M237,605.1 Q258.8,614.1 281.5,605.1 A2,2 0 0 1 281.5,609.1 Q258.8,618.1 237,609.1 A2,2 0 0 1 237,605.1 Z" fill="#fff" stroke="#111" stroke-width="1.9"/>
<path d="M240,607.4 Q258.8,615.6 278,607.4" fill="none" stroke="#888" stroke-width="0.6"/>
<path d="M237,612.7 Q258.8,621.7 281.5,612.7 A2,2 0 0 1 281.5,616.7 Q258.8,625.7 237,616.7 A2,2 0 0 1 237,612.7 Z" fill="#fff" stroke="#111" stroke-width="1.9"/>
<path d="M240,615 Q258.8,623.2 278,615" fill="none" stroke="#888" stroke-width="0.6"/>
<path d="M237,620.3 Q258.8,629.3 281.5,620.3 A2,2 0 0 1 281.5,624.3 Q258.8,633.3 237,624.3 A2,2 0 0 1 237,620.3 Z" fill="#fff" stroke="#111" stroke-width="1.9"/>
<path d="M240,622.6 Q258.8,630.8 278,622.6" fill="none" stroke="#888" stroke-width="0.6"/>
<line x1="224.4" y1="548" x2="224.4" y2="600.7" stroke="#555" stroke-width="0.8"/>
<path d="M224.4,524.7 L266.6,503.1 L266.6,513.5 L224.4,535.1Z" fill="#3b3b3b"/>
<text transform="translate(245.5,522.6) skewY(-27.1)" text-anchor="middle" font-family="Liberation Sans" font-size="9.8" fill="#d8d8d8" textLength="38" lengthAdjust="spacingAndGlyphs">Spiral corner</text>
<path d="M224.4,537.8 L261,519 L261,529.4 L224.4,548.2Z" fill="#3b3b3b"/>
<text transform="translate(242.7,537.1) skewY(-27.2)" text-anchor="middle" font-family="Liberation Sans" font-size="9.8" fill="#d8d8d8" textLength="32.9" lengthAdjust="spacingAndGlyphs">Construction</text>
<rect x="-33" y="-6" width="66" height="12" rx="6" transform="translate(278,753) rotate(33)" fill="#fff" stroke="#111" stroke-width="2.3"/>
<line x1="253.3" y1="746" x2="259.3" y2="741.5" stroke="#111" stroke-width="8.6" stroke-linecap="round"/>
<line x1="253.3" y1="746" x2="259.3" y2="741.5" stroke="#fff" stroke-width="6.6" stroke-linecap="round"/>
<ellipse cx="253.3" cy="746" rx="3.6" ry="4.1" transform="rotate(-35 253.3 746)" fill="#fff" stroke="#111" stroke-width="1.5"/>
<line x1="262.2" y1="751.3" x2="268.2" y2="746.8" stroke="#111" stroke-width="8.6" stroke-linecap="round"/>
<line x1="262.2" y1="751.3" x2="268.2" y2="746.8" stroke="#fff" stroke-width="6.6" stroke-linecap="round"/>
<ellipse cx="262.2" cy="751.3" rx="3.6" ry="4.1" transform="rotate(-35 262.2 751.3)" fill="#fff" stroke="#111" stroke-width="1.5"/>
<line x1="271.1" y1="756.6" x2="277.1" y2="752.1" stroke="#111" stroke-width="8.6" stroke-linecap="round"/>
<line x1="271.1" y1="756.6" x2="277.1" y2="752.1" stroke="#fff" stroke-width="6.6" stroke-linecap="round"/>
<ellipse cx="271.1" cy="756.6" rx="3.6" ry="4.1" transform="rotate(-35 271.1 756.6)" fill="#fff" stroke="#111" stroke-width="1.5"/>
<line x1="280" y1="761.9" x2="286" y2="757.4" stroke="#111" stroke-width="8.6" stroke-linecap="round"/>
<line x1="280" y1="761.9" x2="286" y2="757.4" stroke="#fff" stroke-width="6.6" stroke-linecap="round"/>
<ellipse cx="280" cy="761.9" rx="3.6" ry="4.1" transform="rotate(-35 280 761.9)" fill="#fff" stroke="#111" stroke-width="1.5"/>
<line x1="288.9" y1="767.2" x2="294.9" y2="762.7" stroke="#111" stroke-width="8.6" stroke-linecap="round"/>
<line x1="288.9" y1="767.2" x2="294.9" y2="762.7" stroke="#fff" stroke-width="6.6" stroke-linecap="round"/>
<ellipse cx="288.9" cy="767.2" rx="3.6" ry="4.1" transform="rotate(-35 288.9 767.2)" fill="#fff" stroke="#111" stroke-width="1.5"/>
<line x1="259.5" y1="701" x2="259.5" y2="731.5" stroke="#555" stroke-width="0.8"/>
<path d="M259,678.7 L291.5,696.6 L291.5,707.9 L259,690Z" fill="#3b3b3b"/>
<text transform="translate(275.2,696.8) skewY(28.8)" text-anchor="middle" font-family="Liberation Sans" font-size="9.8" fill="#d8d8d8" textLength="29.2" lengthAdjust="spacingAndGlyphs">Double Step</text>
<path d="M259,690.9 L296.4,712 L296.4,722.3 L259,701.2Z" fill="#3b3b3b"/>
<text transform="translate(277.7,710.1) skewY(29.4)" text-anchor="middle" font-family="Liberation Sans" font-size="9.8" fill="#d8d8d8" textLength="33.7" lengthAdjust="spacingAndGlyphs">Speaker Hole</text>
<path d="M599.5,706.5 L600.4,706.1 L601.5,705.7 L602.6,705.5 L603.8,705.5 L605,705.5 L606.1,705.7 L607.2,706.1 L608.1,706.5 L646.2,728.5 L647,729 L647.6,729.6 L647.9,730.3 L648,731 L647.9,731.7 L647.6,732.4 L647,733 L646.2,733.5 L608.1,755.5 L607.2,755.9 L606.1,756.3 L605,756.5 L603.8,756.5 L602.6,756.5 L601.5,756.3 L600.4,755.9 L599.5,755.5 L561.4,733.5 L560.6,733 L560,732.4 L559.7,731.7 L559.6,731 L559.7,730.3 L560,729.6 L560.6,729 L561.4,728.5Z" fill="#fff" stroke="#111" stroke-width="1.8" />
<path d="M599.5,701.5 L600.4,701.1 L601.5,700.7 L602.6,700.5 L603.8,700.5 L605,700.5 L606.1,700.7 L607.2,701.1 L608.1,701.5 L646.2,723.5 L647,724 L647.6,724.6 L647.9,725.3 L648,726 L647.9,726.7 L647.6,727.4 L647,728 L646.2,728.5 L608.1,750.5 L607.2,750.9 L606.1,751.3 L605,751.5 L603.8,751.5 L602.6,751.5 L601.5,751.3 L600.4,750.9 L599.5,750.5 L561.4,728.5 L560.6,728 L560,727.4 L559.7,726.7 L559.6,726 L559.7,725.3 L560,724.6 L560.6,724 L561.4,723.5Z" fill="#fff" stroke="#222" stroke-width="1.5" />
<path d="M600.3,703.5 L601.1,703.1 L601.9,702.9 L602.8,702.7 L603.8,702.7 L604.8,702.7 L605.7,702.9 L606.5,703.1 L607.3,703.5 L642.8,724 L643.4,724.4 L643.8,724.9 L644.1,725.4 L644.2,726 L644.1,726.6 L643.8,727.1 L643.4,727.6 L642.8,728 L607.3,748.5 L606.5,748.9 L605.7,749.1 L604.8,749.3 L603.8,749.3 L602.8,749.3 L601.9,749.1 L601.1,748.9 L600.3,748.5 L564.8,728 L564.2,727.6 L563.8,727.1 L563.5,726.6 L563.4,726 L563.5,725.4 L563.8,724.9 L564.2,724.4 L564.8,724Z" fill="none" stroke="#444" stroke-width="0.8" />
<path d="M600.3,705.5 L601.1,705.1 L601.9,704.9 L602.8,704.7 L603.8,704.7 L604.8,704.7 L605.7,704.9 L606.5,705.1 L607.3,705.5 L641,725 L641.6,725.4 L642.1,725.9 L642.4,726.4 L642.5,727 L642.4,727.6 L642.1,728.1 L641.6,728.6 L641,729 L607.3,748.5 L606.5,748.9 L605.7,749.1 L604.8,749.3 L603.8,749.3 L602.8,749.3 L601.9,749.1 L601.1,748.9 L600.3,748.5 L566.6,729 L566,728.6 L565.5,728.1 L565.2,727.6 L565.1,727 L565.2,726.4 L565.5,725.9 L566,725.4 L566.6,725Z" fill="none" stroke="#999" stroke-width="0.6" />
<line x1="603.3" y1="703" x2="603.3" y2="724" stroke="#777" stroke-width="0.9" stroke-dasharray="6 5" fill="none" />
<line x1="590" y1="719" x2="616" y2="734" stroke="#777" stroke-width="0.9" stroke-dasharray="6 5" fill="none" />
<line x1="590" y1="734" x2="616" y2="719" stroke="#777" stroke-width="0.9" stroke-dasharray="6 5" fill="none" />
<line x1="571.9" y1="742" x2="571.9" y2="756" stroke="#888" stroke-width="0.8"/>
<path d="M534.9,774.9 L571.7,755.2 L571.7,765.7 L534.9,785.4Z" fill="#3b3b3b"/>
<text transform="translate(553.3,773.8) skewY(-28.2)" text-anchor="middle" font-family="Liberation Sans" font-size="9.8" fill="#d8d8d8" textLength="33.1" lengthAdjust="spacingAndGlyphs">Camera Frame</text>
<path d="M543.2,781.8 L571.7,767.1 L571.7,778.1 L543.2,792.8Z" fill="#3b3b3b"/>
<text transform="translate(557.5,783.5) skewY(-27.3)" text-anchor="middle" font-family="Liberation Sans" font-size="9.8" fill="#d8d8d8" textLength="25.7" lengthAdjust="spacingAndGlyphs">Protection</text>
<line x1="640" y1="660.6" x2="720.8" y2="705.7" stroke="#777" stroke-width="0.9" stroke-dasharray="6 5" fill="none" />
<path d="M694.6,720.6 L767.7,679 Q772,684 770,690 Q767,700 769.4,708.8 L690.7,753.2 Q689,745 692,738 Q695,728 694.6,720.6 Z" fill="#fff" stroke="#222" stroke-width="1.1"/>
<path d="M694.6,723.5 L768,681.8" fill="none" stroke="#333" stroke-width="1"/>
<path d="M694.5,723 L696,725 L694,727.5 L695.8,729.5 L693.7,732 L695.5,734 L693.3,736.5 L695.2,738.5 L693,741 L694.8,743 L692.5,745.5 L694.4,747.5 L692,750" fill="none" stroke="#111" stroke-width="1.9"/>
<rect x="-27" y="-9.7" width="54" height="19.4" rx="9.7" transform="translate(734,716) rotate(-30)" fill="none" stroke="#666" stroke-width="1"/>
<rect x="-19" y="-5" width="38" height="10" rx="5" transform="translate(736,716) rotate(-30)" fill="#fff" stroke="#222" stroke-width="2.3"/>
<rect x="-15" y="-2.5" width="30" height="5" rx="2.5" transform="translate(737.5,717) rotate(-30)" fill="none" stroke="#777" stroke-width="0.7"/>
<circle cx="746.4" cy="710.5" r="1.8" fill="#333"/><circle cx="756.5" cy="697" r="1.8" fill="#333"/><circle cx="698.6" cy="740.3" r="1.8" fill="#333"/>
<path d="M746.4,710.5 L746.4,645.1 L774.2,629.7" fill="none" stroke="#555" stroke-width="0.7" />
<path d="M756.5,697 L756.5,671.3 L784.9,657" fill="none" stroke="#555" stroke-width="0.7" />
<path d="M698.2,740.1 L698.2,763.9 L656.6,786.5" fill="none" stroke="#555" stroke-width="0.7" />
<text transform="translate(749,642) skewY(-30)" font-family="Liberation Sans" font-size="7" fill="#555" textLength="22" lengthAdjust="spacingAndGlyphs">depth: 0,5X</text>
<text transform="translate(760,668) skewY(-30)" font-family="Liberation Sans" font-size="7" fill="#555" textLength="22" lengthAdjust="spacingAndGlyphs">depth: 1,5X</text>
<text transform="translate(661,780) skewY(-30)" font-family="Liberation Sans" font-size="7" fill="#555" textLength="18" lengthAdjust="spacingAndGlyphs">depth: 1X</text>
<line x1="764.7" y1="702" x2="764.7" y2="739" stroke="#555" stroke-width="0.8"/>
<path d="M764.7,739 L807.5,716.4 L807.5,726.9 L764.7,749.5Z" fill="#3b3b3b"/>
<text transform="translate(786.1,736.5) skewY(-27.8)" text-anchor="middle" font-family="Liberation Sans" font-size="9.8" fill="#d8d8d8" textLength="38.5" lengthAdjust="spacingAndGlyphs">Sensation Button</text>
<path d="M764.7,749.6 L782.5,742.5 L782.5,754 L764.7,761.1Z" fill="#3b3b3b"/>
<text transform="translate(773.6,755.3) skewY(-21.7)" text-anchor="middle" font-family="Liberation Sans" font-size="9.8" fill="#d8d8d8" textLength="16" lengthAdjust="spacingAndGlyphs">Design</text>
</svg>
</body></html>
